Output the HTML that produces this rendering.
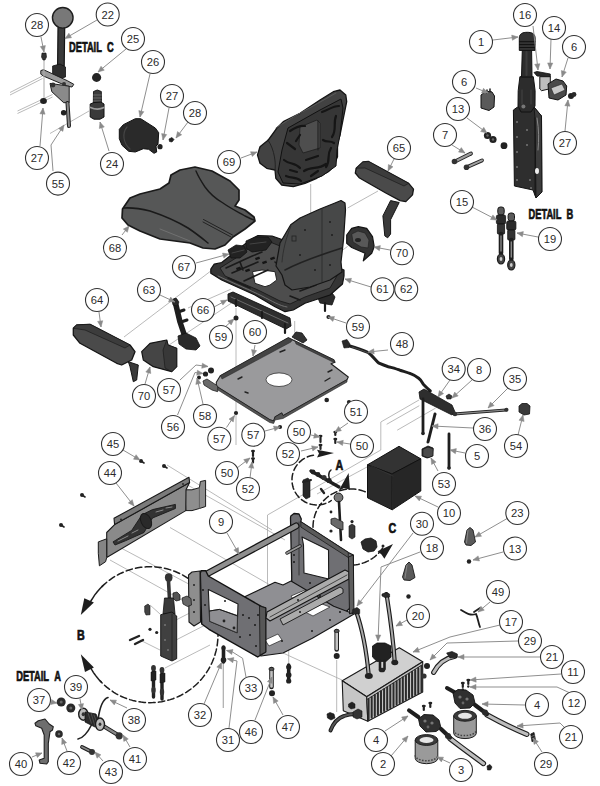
<!DOCTYPE html>
<html><head><meta charset="utf-8"><style>
html,body{margin:0;padding:0;background:#fff;width:600px;height:786px;overflow:hidden}
svg{display:block;font-family:"Liberation Sans",sans-serif}
</style></head><body>
<svg width="600" height="786" viewBox="0 0 600 786">
<rect width="600" height="786" fill="#ffffff"/>
<path d="M10.0,92.5 L42.5,76.0" fill="none" stroke="#a8a8a8" stroke-width="0.8"/>
<path d="M10.0,95.0 L42.5,78.5" fill="none" stroke="#a8a8a8" stroke-width="0.8"/>
<path d="M17.5,111.0 L52.5,94.5" fill="none" stroke="#a8a8a8" stroke-width="0.8"/>
<path d="M17.5,113.5 L52.5,97.0" fill="none" stroke="#a8a8a8" stroke-width="0.8"/>
<path d="M50.0,133.5 L89.0,111.0" fill="none" stroke="#a8a8a8" stroke-width="0.8"/>
<path d="M310.7,184.0 L310.7,217.0" fill="none" stroke="#a8a8a8" stroke-width="0.8"/>
<path d="M378.0,191.0 L347.6,208.0" fill="none" stroke="#a8a8a8" stroke-width="0.8"/>
<path d="M347.6,246.4 L340.0,252.0" fill="none" stroke="#a8a8a8" stroke-width="0.8"/>
<path d="M124.0,337.0 L214.7,268.0" fill="none" stroke="#a8a8a8" stroke-width="0.8"/>
<path d="M169.0,345.0 L236.0,300.0" fill="none" stroke="#a8a8a8" stroke-width="0.8"/>
<path d="M188.0,308.0 L230.7,289.3" fill="none" stroke="#a8a8a8" stroke-width="0.8"/>
<path d="M236.0,308.0 L236.0,445.0" fill="none" stroke="#a8a8a8" stroke-width="0.8"/>
<path d="M294.7,321.0 L294.7,340.0" fill="none" stroke="#a8a8a8" stroke-width="0.8"/>
<path d="M419.3,399.8 L380.8,422.0 L380.8,450.0 L267.5,515.0 L267.5,585.0" fill="none" stroke="#a8a8a8" stroke-width="0.8"/>
<path d="M419.3,405.7 L386.7,424.3" fill="none" stroke="#a8a8a8" stroke-width="0.8"/>
<path d="M435.7,408.0 L397.2,430.2" fill="none" stroke="#a8a8a8" stroke-width="0.8"/>
<path d="M167.0,465.0 L272.0,530.0" fill="none" stroke="#a8a8a8" stroke-width="0.8"/>
<path d="M187.5,485.0 L285.0,540.0" fill="none" stroke="#a8a8a8" stroke-width="0.8"/>
<path d="M170.0,527.5 L270.0,585.0" fill="none" stroke="#a8a8a8" stroke-width="0.8"/>
<path d="M317.0,494.0 L367.0,467.0" fill="none" stroke="#a8a8a8" stroke-width="0.8"/>
<path d="M106.0,540.0 L200.0,590.0" fill="none" stroke="#a8a8a8" stroke-width="0.8"/>
<path d="M110.0,560.0 L200.0,610.0" fill="none" stroke="#a8a8a8" stroke-width="0.8"/>
<path d="M176.0,620.0 L215.0,600.0" fill="none" stroke="#a8a8a8" stroke-width="0.8"/>
<path d="M176.0,640.0 L215.0,620.0" fill="none" stroke="#a8a8a8" stroke-width="0.8"/>
<path d="M165.0,668.0 L210.0,645.0" fill="none" stroke="#a8a8a8" stroke-width="0.8"/>
<path d="M150.0,605.0 L160.0,614.0" fill="none" stroke="#a8a8a8" stroke-width="0.8"/>
<path d="M140.0,640.0 L160.0,650.0" fill="none" stroke="#a8a8a8" stroke-width="0.8"/>
<path d="M223.3,662.0 L223.3,708.0" fill="none" stroke="#a8a8a8" stroke-width="0.8"/>
<path d="M288.7,649.0 L288.7,665.0" fill="none" stroke="#a8a8a8" stroke-width="0.8"/>
<path d="M336.7,660.0 L336.7,712.0" fill="none" stroke="#a8a8a8" stroke-width="0.8"/>
<path d="M223.3,663.0 L223.3,708.0" fill="none" stroke="#a8a8a8" stroke-width="0.8"/>
<path d="M283.0,653.0 L342.0,680.0" fill="none" stroke="#a8a8a8" stroke-width="0.8"/>
<path d="M122.5,209.0 L130.0,198.0 L140.0,194.0 L160.0,189.0 L169.0,183.0 L171.0,175.0 L180.0,170.0 L195.0,167.0 L212.0,171.0 L230.0,181.0 L239.0,190.0 L239.0,200.0 L235.0,206.0 L245.0,210.0 L254.0,217.0 L255.0,221.0 L245.0,229.0 L233.0,237.0 L225.0,245.0 L215.0,249.0 L203.0,248.0 L190.0,243.0 L175.0,241.0 L160.0,239.0 L140.0,231.0 L128.0,225.0 L122.0,218.0 Z" fill="#565757" stroke="#1a1a1a" stroke-width="1.7" stroke-linejoin="round" />
<path d="M124,208 C132,207.5 140,208.5 150,211 C165,216 178,222 188,228 C197,234 203,239 208,243" fill="none" stroke="#1a1a1a" stroke-width="1.6" stroke-linejoin="round" stroke-linecap="round" />
<path d="M196,171 C198,176 201,181 205,187 C210,194 216,199 223,203 C230,208 238,212 245,216 C249,218 252,219.5 254,220" fill="none" stroke="#1a1a1a" stroke-width="1.4" stroke-linejoin="round" stroke-linecap="round" />
<path d="M203.5,219.5 L232.5,235 M203,222 L231,237" fill="none" stroke="#222" stroke-width="1" stroke-linejoin="round" stroke-linecap="round" />
<path d="M160,229 L190,241" fill="none" stroke="#777" stroke-width="0.8" stroke-linejoin="round" stroke-linecap="round" />
<path d="M340.0,90.0 L345.8,95.0 L346.7,101.7 L343.3,118.3 L340.0,135.0 L337.5,143.3 L337.5,156.7 L333.3,166.7 L328.3,171.7 L316.7,178.3 L305.0,183.3 L293.3,186.7 L281.7,185.0 L275.8,178.3 L275.0,170.0 L266.7,168.3 L260.0,163.3 L257.5,155.0 L260.0,146.7 L268.3,140.0 L276.7,128.3 L283.3,121.7 L300.0,113.3 L320.0,100.0 L333.3,91.7 Z" fill="#424242" stroke="#151515" stroke-width="1.3" stroke-linejoin="round" />
<path d="M288.0,128.0 L320.0,110.0 L341.0,99.0 L343.0,108.0 L340.0,135.0 L337.0,150.0 L336.0,166.0 L322.0,176.0 L300.0,184.0 L283.0,183.0 L278.0,172.0 L282.0,150.0 Z" fill="#363636" stroke="#111" stroke-width="1" stroke-linejoin="round" />
<path d="M300.0,127.0 L317.0,120.0 L320.0,123.0 L320.0,148.0 L303.0,153.0 L299.0,145.0 Z" fill="#4e4e4e" stroke="#1a1a1a" stroke-width="0.7" stroke-linejoin="round" />
<path d="M318,121 L318,150" fill="none" stroke="#1a1a1a" stroke-width="1" stroke-linejoin="round" stroke-linecap="round" />
<path d="M290,131 C296,127 300,125 305,126 M322,112 C328,110 333,106 339,106 M336,116 C333,123 337,130 332,137 M284,160 C290,165 295,162 300,168 M304,171 C312,166 318,170 326,164 M331,148 C326,156 331,160 326,167 M287,143 L295,149 M286,176 C292,179 296,176 301,181 M306,160 L318,156 M323,140 C327,143 330,140 334,143 M300,135 L296,141 M290,170 L297,172 M311,176 L318,171" fill="none" stroke="#151515" stroke-width="2.2" stroke-linejoin="round" stroke-linecap="round" />
<path d="M276,128 C290,118 310,108 336,93" fill="none" stroke="#5a5a5a" stroke-width="1" stroke-linejoin="round" stroke-linecap="round" />
<path d="M268,140 C275,150 276,165 275,170" fill="none" stroke="#222" stroke-width="1" stroke-linejoin="round" stroke-linecap="round" />
<path d="M228.0,294.0 L233.0,292.0 L290.0,318.0 L291.0,326.0 L286.0,329.0 L228.0,301.0 Z" fill="#2e2e2e" stroke="#111" stroke-width="0.9" stroke-linejoin="round" />
<path d="M231,297 L288,323" fill="none" stroke="#777" stroke-width="0.8" stroke-linejoin="round" stroke-linecap="round" />
<path d="M316.0,293.0 L330.0,290.0 L335.0,297.0 L332.0,305.0 L320.0,303.0 Z" fill="#2a2a2a" stroke="#111" stroke-width="0.8" stroke-linejoin="round" />
<path d="M236,300 L236,306 M262,312 L262,318 M285,324 L285,333 M325,303 L325,311" fill="none" stroke="#1a1a1a" stroke-width="2.2" stroke-linejoin="round" stroke-linecap="round" />
<path d="M210.8,269.2 L214.2,264.2 L221.7,262.5 L235.0,252.0 L250.0,240.0 L258.0,235.5 L272.0,236.0 L282.0,239.5 L300.0,250.0 L325.0,262.0 L344.0,270.0 L344.0,276.0 L342.5,284.0 L330.0,295.0 L305.0,303.3 L293.3,310.0 L285.0,311.7 L275.0,306.7 L255.0,295.0 L221.7,280.0 L210.8,273.3 Z" fill="#353535" stroke="#111" stroke-width="1.2" stroke-linejoin="round" />
<path d="M220.0,268.0 L236.0,258.0 L252.0,246.0 L270.0,242.0 L290.0,250.0 L320.0,266.0 L338.0,274.0 L330.0,288.0 L305.0,297.0 L290.0,304.0 L280.0,301.0 L258.0,290.0 L225.0,276.0 Z" fill="#4d4d4d" stroke="#1a1a1a" stroke-width="0.9" stroke-linejoin="round" />
<path d="M218,276 C235,284 250,290 262,296 C272,301 280,306 287,307" fill="none" stroke="#777" stroke-width="0.9" stroke-linejoin="round" stroke-linecap="round" />
<path d="M252.5,271.7 L262.0,270.0 L275.0,271.7 L276.7,280.0 L270.0,285.0 L265.0,286.7 L255.0,283.3 Z" fill="#ffffff" stroke="#1a1a1a" stroke-width="0.9" stroke-linejoin="round" />
<path d="M228.0,250.0 L236.0,245.0 L244.0,246.0 L247.0,252.0 L240.0,258.0 L231.0,258.0 Z" fill="#222" stroke="#111" stroke-width="0.8" stroke-linejoin="round" />
<path d="M246.0,241.0 L255.0,237.0 L268.0,237.0 L272.0,242.0 L266.0,250.0 L252.0,252.0 L246.0,248.0 Z" fill="#222" stroke="#111" stroke-width="0.8" stroke-linejoin="round" />
<path d="M232,253 L244,250 M250,244 L266,242" fill="none" stroke="#444" stroke-width="1" stroke-linejoin="round" stroke-linecap="round" />
<path d="M226,268 L250,257 L262,252 M232,273 L258,262 M244,281 L268,270 M240,262 L243,270 M275,262 L282,268 M290,256 L300,262 M300,270 L312,276 M300,291 L316,285 M290,296 L300,300 M228,278 L250,288" fill="none" stroke="#1a1a1a" stroke-width="1.6" stroke-linejoin="round" stroke-linecap="round" />
<rect x="262" y="262" width="4.5" height="2.5" fill="#151515" transform="rotate(-20 262 262)"/>
<rect x="245" y="270" width="4.5" height="2.5" fill="#151515" transform="rotate(-20 245 270)"/>
<rect x="300" y="285" width="4.5" height="2.5" fill="#151515" transform="rotate(-20 300 285)"/>
<rect x="315" y="280" width="4.5" height="2.5" fill="#151515" transform="rotate(-20 315 280)"/>
<rect x="236" y="268" width="4.5" height="2.5" fill="#151515" transform="rotate(-20 236 268)"/>
<rect x="255" y="258" width="4.5" height="2.5" fill="#151515" transform="rotate(-20 255 258)"/>
<rect x="270" y="258" width="4.5" height="2.5" fill="#151515" transform="rotate(-20 270 258)"/>
<rect x="287" y="272" width="4.5" height="2.5" fill="#151515" transform="rotate(-20 287 272)"/>
<rect x="290" y="284" width="4.5" height="2.5" fill="#151515" transform="rotate(-20 290 284)"/>
<path d="M290.7,224.7 L300.0,218.0 L320.0,209.0 L335.0,203.0 L341.0,200.5 L345.0,203.0 L345.5,210.0 L343.5,240.0 L341.0,262.0 L342.0,272.0 L330.0,280.0 L310.0,287.0 L292.0,290.0 L285.0,285.0 L282.0,275.0 L276.0,266.0 L280.0,243.0 Z" fill="#474848" stroke="#151515" stroke-width="1.2" stroke-linejoin="round" />
<path d="M322,209 L322,282" fill="none" stroke="#2a2a2a" stroke-width="0.8" stroke-linejoin="round" stroke-linecap="round" />
<path d="M285,270 C300,262 320,255 342,248" fill="none" stroke="#222" stroke-width="1.6" stroke-linejoin="round" stroke-linecap="round" />
<path d="M291,226 C286,238 283,250 282,262" fill="none" stroke="#2a2a2a" stroke-width="0.8" stroke-linejoin="round" stroke-linecap="round" />
<rect x="292" y="236" width="4" height="5" fill="none" stroke="#222" stroke-width="0.8"/>
<circle cx="305" cy="230" r="0.9" fill="#1a1a1a"/>
<circle cx="330" cy="222" r="0.9" fill="#1a1a1a"/>
<circle cx="300" cy="255" r="0.9" fill="#1a1a1a"/>
<circle cx="332" cy="235" r="0.9" fill="#1a1a1a"/>
<circle cx="315" cy="270" r="0.9" fill="#1a1a1a"/>
<circle cx="330" cy="265" r="0.9" fill="#1a1a1a"/>
<path d="M220.3,375.7 L288.3,337.8 L292.3,339.7 L295.0,341.0 L333.7,359.7 L335.0,362.3 L331.0,363.7 L348.3,377.0 L347.0,379.7 L283.0,415.7 L281.7,413.0 L275.0,417.0 L273.7,421.0 L269.7,419.7 L216.3,386.3 L216.3,382.3 Z" fill="#9a9a9c" stroke="#1e1e1e" stroke-width="1.1" stroke-linejoin="round" />
<path d="M216.3,386.3 L269.7,419.7 L273.7,421.0 L275.0,417.0 L281.7,413.0 L283.0,415.7 L347.0,379.7 L347.0,382.0 L283.0,418.5 L275.0,420.0 L273.7,423.5 L269.7,422.5 L216.3,389.0 Z" fill="#555" stroke="#222" stroke-width="0.6" stroke-linejoin="round" />
<path d="M288.3,337.8 L292.3,339.7 L291.0,342.0 L222.0,379.0 L220.3,375.7 Z" fill="#444" stroke="#222" stroke-width="0.5" stroke-linejoin="round" />
<path d="M295.0,341.0 L333.7,359.7 L335.0,362.3 L333.0,362.0 L296.0,344.0 Z" fill="#444" stroke="#222" stroke-width="0.5" stroke-linejoin="round" />
<path d="M203.0,381.0 L207.0,379.0 L217.7,386.0 L217.7,391.7 L212.0,390.0 L204.0,385.0 Z" fill="#6a6a6a" stroke="#222" stroke-width="0.8" stroke-linejoin="round" />
<ellipse cx="279" cy="379.7" rx="13" ry="6.8" fill="#ffffff" stroke="#333" stroke-width="0.8"/>
<path d="M238,379 L242,377 M280,352 L285,350 M245,392 L248,393 M325,381 L330,378 M328,372 L332,370" fill="none" stroke="#222" stroke-width="1.4" stroke-linejoin="round" stroke-linecap="round" />
<path d="M292.0,337.0 L296.0,332.0 L302.0,333.0 L307.0,340.0 L303.0,343.0 Z" fill="#333" stroke="#111" stroke-width="0.8" stroke-linejoin="round" />
<path d="M367.5,464.8 L399.0,446.3 L420.8,458.8 L392.0,474.0 Z" fill="#333333" stroke="#111" stroke-width="1" stroke-linejoin="round" />
<path d="M367.5,464.8 L392.0,474.0 L392.2,509.8 L367.5,497.8 Z" fill="#2a2a2a" stroke="#111" stroke-width="1" stroke-linejoin="round" />
<path d="M392.0,474.0 L420.8,458.8 L420.8,491.0 L392.2,509.8 Z" fill="#262626" stroke="#111" stroke-width="1" stroke-linejoin="round" />
<path d="M371,466 L393,476 M392,474 L392.25,509.75" fill="none" stroke="#3a3a3a" stroke-width="0.6" stroke-linejoin="round" stroke-linecap="round" />
<path d="M422.0,449.0 L428.0,446.0 L433.0,448.0 L432.0,456.0 L427.0,458.0 L422.0,456.0 Z" fill="#4a4a4a" stroke="#111" stroke-width="0.8" stroke-linejoin="round" />
<path d="M101.9,586.6 L104.0,584.6 L106.2,582.7 L108.5,580.8 L110.9,579.1 L113.3,577.4 L115.8,575.9 L118.4,574.5 L121.0,573.2 L123.7,572.0 L126.4,570.9 L129.2,570.0 L132.0,569.1 L134.9,568.4 L137.7,567.8 L140.6,567.3 L143.6,567.0 L146.5,566.8 L149.4,566.7 L152.4,566.7 L155.3,566.9 L158.2,567.2 L161.1,567.6 L164.0,568.2 L166.8,568.8 L169.7,569.6 L172.5,570.5 L175.2,571.5 L177.9,572.7 L180.6,574.0 L183.2,575.3 L185.7,576.8 L188.2,578.4 L190.5,580.1 L192.9,581.9 L195.1,583.8 L197.3,585.8 L199.3,587.9 L201.3,590.1 L203.2,592.3 L204.9,594.6 L206.6,597.1 L208.2,599.5 L209.7,602.1 L211.0,604.7 L212.3,607.3 L213.4,610.0 L214.4,612.8 L215.3,615.6 L216.0,618.4 L216.7,621.3 L217.2,624.2 L217.6,627.1 L217.8,630.0 L218.0,633.0 L218.0,635.9 L217.9,638.8 L217.6,641.7 L217.3,644.7 L216.8,647.5 L216.2,650.4 L215.4,653.3 L214.6,656.1 L213.6,658.8 L212.5,661.5 L211.3,664.2 L209.9,666.8 L208.5,669.4 L206.9,671.9 L205.3,674.3 L203.5,676.6 L201.7,678.9 L199.7,681.1 L197.7,683.2 L195.5,685.2 L193.3,687.1 L191.0,689.0 L188.6,690.7 L186.2,692.3 L183.6,693.8 L181.1,695.2 L178.4,696.5 L175.7,697.6 L173.0,698.7 L170.2,699.6 L167.4,700.4 L164.5,701.1 L161.7,701.7 L158.8,702.1 L155.8,702.4 L152.9,702.6 L150.0,702.7 L147.0,702.6 L144.1,702.4 L141.2,702.1 L138.3,701.7 L135.4,701.1 L132.6,700.4 L129.7,699.6 L127.0,698.7 L124.2,697.6 L121.5,696.5 L118.9,695.2 L116.3,693.8 L113.8,692.3 L111.4,690.6 L109.0,688.9 L106.7,687.1 L104.5,685.2 L102.3,683.2 L100.3,681.1" fill="none" stroke="#1e1e1e" stroke-width="1.5" stroke-linejoin="round" stroke-linecap="round" stroke-dasharray="6.5,3.2"/>
<path d="M90.5,601.7 L91.5,600.0 L92.6,598.3 L93.7,596.6 L94.8,594.9 L96.1,593.3 L97.3,591.7 L98.6,590.2 L99.9,588.7 L101.3,587.2 L102.8,585.8" fill="none" stroke="#1e1e1e" stroke-width="1.5" stroke-linejoin="round" stroke-linecap="round" />
<path d="M101.1,681.9 L99.9,680.7 L98.8,679.4 L97.6,678.1 L96.6,676.8 L95.5,675.4 L94.5,674.0 L93.5,672.6 L92.6,671.1 L91.7,669.7 L90.8,668.2" fill="none" stroke="#1e1e1e" stroke-width="1.5" stroke-linejoin="round" stroke-linecap="round" />
<path d="M80.8,615 L84.3,598.3 L93.9,602.6 Z" fill="#1e1e1e"/>
<path d="M80.8,654.3 L85,671.9 L93.9,667.4 Z" fill="#1e1e1e"/>
<path d="M365.2,491.8 L363.4,491.1 L361.6,490.5 L359.7,490.0 L357.8,489.6 L355.9,489.3 L354.0,489.1 L352.1,489.0 L350.1,489.0 L348.2,489.1 L346.3,489.3 L344.4,489.6 L342.5,490.0 L340.6,490.4 L338.8,491.0 L337.0,491.7 L335.2,492.4 L333.5,493.3 L331.8,494.2 L330.1,495.2 L328.5,496.3 L327.0,497.5 L325.6,498.8 L324.2,500.1 L322.8,501.5 L321.6,503.0 L320.4,504.5 L319.3,506.1 L318.3,507.7 L317.3,509.4 L316.5,511.1 L315.7,512.9 L315.0,514.7 L314.5,516.6 L314.0,518.4 L313.6,520.3 L313.3,522.2 L313.1,524.2 L313.0,526.1 L313.0,528.0 L313.1,529.9 L313.3,531.9 L313.6,533.8 L314.0,535.7 L314.5,537.5 L315.1,539.4 L315.7,541.2 L316.5,543.0 L317.4,544.7 L318.3,546.4 L319.3,548.0 L320.4,549.6 L321.6,551.1 L322.9,552.6 L324.2,554.0 L325.6,555.3 L327.1,556.5 L328.6,557.7 L330.2,558.8 L331.9,559.8 L333.6,560.8 L335.3,561.6 L337.1,562.4 L338.9,563.0 L340.7,563.6 L342.6,564.1 L344.5,564.4 L346.4,564.7 L348.3,564.9 L350.2,565.0 L352.2,565.0 L354.1,564.9 L356.0,564.7 L357.9,564.4 L359.8,564.0 L361.7,563.5 L363.5,562.9 L365.3,562.2 L367.1,561.4 L368.8,560.6 L370.5,559.6 L372.1,558.6 L373.7,557.5 L375.2,556.3 L376.7,555.0 L378.1,553.7 L379.4,552.3 L380.6,550.8 L381.8,549.2 L382.9,547.6 L383.9,546.0" fill="none" stroke="#1e1e1e" stroke-width="1.5" stroke-linejoin="round" stroke-linecap="round" stroke-dasharray="6.5,3.2"/>
<path d="M348.6,473 L338.5,491 L344,488 L350,490 Z" fill="#1e1e1e"/>
<path d="M393,544 L384.4,558.7 L381.5,554.5 L377.6,551.3 Z" fill="#1e1e1e"/>
<path d="M290.8,516.0 L294.0,513.5 L299.0,514.0 L301.3,519.0 L300.8,521.7 L348.3,552.5 L353.3,555.0 L353.3,605.0 L335.0,622.0 L291.7,600.0 L291.7,575.0 L290.5,518.0 Z" fill="#6f6f73" stroke="#151515" stroke-width="1.3" stroke-linejoin="round" />
<path d="M302.0,537.0 L328.5,550.0 L328.7,579.0 L304.0,573.0 L303.5,545.0 Z" fill="#ffffff" stroke="#1a1a1a" stroke-width="1.1" stroke-linejoin="round" />
<path d="M300.8,521.7 L348.3,552.5 L348.3,557.5 L300.8,527.0 Z" fill="#5a5a5a" stroke="#1a1a1a" stroke-width="0.8" stroke-linejoin="round" />
<path d="M299,522 L299,575" fill="none" stroke="#2a2a2a" stroke-width="0.8" stroke-linejoin="round" stroke-linecap="round" />
<path d="M240.0,599.0 L275.0,582.3 L283.0,585.0 L291.0,581.0 L333.7,606.3 L354.0,614.0 L344.3,619.7 L312.3,638.3 L283.0,653.0 L261.0,656.0 L240.0,640.0 Z" fill="#8f8f93" stroke="#151515" stroke-width="1.1" stroke-linejoin="round" />
<path d="M291.0,596.0 L305.0,590.0 L307.0,593.0 L293.0,599.0 Z" fill="#ffffff" stroke="#333" stroke-width="0.8" stroke-linejoin="round" />
<path d="M305.0,612.0 L322.0,604.0 L330.0,607.0 L313.0,616.0 Z" fill="#ffffff" stroke="#333" stroke-width="0.8" stroke-linejoin="round" />
<path d="M265.0,640.0 L278.0,634.0 L282.0,640.0 L269.0,646.0 Z" fill="#ffffff" stroke="#333" stroke-width="0.8" stroke-linejoin="round" />
<path d="M287,553 L300,546" fill="none" stroke="#222" stroke-width="3.5" stroke-linejoin="round" stroke-linecap="round" />
<path d="M287,553 L300,546" fill="none" stroke="#9a9a9a" stroke-width="1.8" stroke-linejoin="round" stroke-linecap="round" />
<path d="M203,576 L296,526" fill="none" stroke="#151515" stroke-width="7" stroke-linejoin="round" stroke-linecap="round" />
<path d="M203,576 L296,526" fill="none" stroke="#8e8e8e" stroke-width="4.6" stroke-linejoin="round" stroke-linecap="round" />
<path d="M200.3,573.3 L201.0,570.7 L205.7,570.7 L208.3,576.0 L261.7,606.7 L265.7,608.0 L265.7,652.0 L257.7,657.0 L209.0,629.3 L201.7,624.0 Z" fill="#6f6f73" stroke="#111" stroke-width="1.4" stroke-linejoin="round" />
<path d="M208.3,589.5 L238.0,604.0 L237.0,632.7 L209.7,621.3 Z" fill="#ffffff" stroke="#1a1a1a" stroke-width="1.1" stroke-linejoin="round" />
<path d="M209.5,611.0 L219.4,609.4 L237.5,615.5 L237.0,632.7 L209.7,621.3 Z" fill="#8f8f93" stroke="#2a2a2a" stroke-width="0.8" stroke-linejoin="round" />
<circle cx="224" cy="621" r="1.4" fill="#222"/><circle cx="234" cy="628" r="1.4" fill="#222"/>
<path d="M209.5,611 L219.4,609.4 L237.5,616" fill="none" stroke="#1a1a1a" stroke-width="1" stroke-linejoin="round" stroke-linecap="round" />
<path d="M259.5,606.0 L265.7,608.0 L265.7,652.0 L260.0,655.0 Z" fill="#575757" stroke="#151515" stroke-width="0.8" stroke-linejoin="round" />
<path d="M267.0,612.0 L345.0,570.0 L349.0,572.0 L349.0,579.0 L270.0,621.0 L266.0,618.0 Z" fill="#ababab" stroke="#151515" stroke-width="1.1" stroke-linejoin="round" />
<path d="M270,617 L347,575" fill="none" stroke="#2a2a2a" stroke-width="0.8" stroke-linejoin="round" stroke-linecap="round" />
<path d="M280.0,619.0 L340.0,587.0 L343.0,589.0 L343.0,593.0 L283.0,625.0 Z" fill="#ababab" stroke="#151515" stroke-width="0.9" stroke-linejoin="round" />
<path d="M348.5,557.0 L353.3,555.0 L354.0,612.0 L349.5,614.0 Z" fill="#5e5e5e" stroke="#151515" stroke-width="0.9" stroke-linejoin="round" />
<circle cx="243" cy="615" r="1" fill="#1a1a1a"/>
<circle cx="249" cy="618" r="1" fill="#1a1a1a"/>
<circle cx="225" cy="601" r="1" fill="#1a1a1a"/>
<circle cx="203" cy="590" r="1" fill="#1a1a1a"/>
<circle cx="205" cy="605" r="1" fill="#1a1a1a"/>
<circle cx="312" cy="631" r="1" fill="#1a1a1a"/>
<circle cx="330" cy="620" r="1" fill="#1a1a1a"/>
<circle cx="340" cy="612" r="1" fill="#1a1a1a"/>
<circle cx="298" cy="600" r="1" fill="#1a1a1a"/>
<circle cx="310" cy="583" r="1" fill="#1a1a1a"/>
<circle cx="282" cy="641" r="1" fill="#1a1a1a"/>
<circle cx="256" cy="646" r="1" fill="#1a1a1a"/>
<circle cx="240" cy="637" r="1" fill="#1a1a1a"/>
<circle cx="294" cy="555" r="1" fill="#1a1a1a"/>
<circle cx="294" cy="562" r="1" fill="#1a1a1a"/>
<circle cx="250" cy="635" r="1" fill="#1a1a1a"/>
<circle cx="255" cy="625" r="1" fill="#1a1a1a"/>
<circle cx="258" cy="615" r="1" fill="#1a1a1a"/>
<circle cx="320" cy="596" r="1" fill="#1a1a1a"/>
<circle cx="300" cy="612" r="1" fill="#1a1a1a"/>
<path d="M342.2,680.8 L399.3,647.7 L422.7,661.7 L366.7,696.7 Z" fill="#d0d0d0" stroke="#1a1a1a" stroke-width="1.1" stroke-linejoin="round" />
<path d="M342.2,680.8 L366.7,696.7 L367.8,721.2 L343.3,710.7 Z" fill="#c6c6c6" stroke="#1a1a1a" stroke-width="1.1" stroke-linejoin="round" />
<path d="M366.7,696.7 L422.7,661.7 L422.7,692.0 L367.8,721.2 Z" fill="#c4c4c4" stroke="#1a1a1a" stroke-width="1.1" stroke-linejoin="round" />
<path d="M367,699.5 L422.7,664.5" fill="none" stroke="#333" stroke-width="1" stroke-linejoin="round" stroke-linecap="round" />
<path d="M368.6,699.0 L368.6,719.2 M371.7,697.1 L371.7,717.6 M374.8,695.1 L374.8,716.0 M377.9,693.2 L377.9,714.4 M381.0,691.3 L381.0,712.7 M384.1,689.3 L384.1,711.1 M387.2,687.4 L387.2,709.5 M390.3,685.4 L390.3,707.9 M393.5,683.5 L393.5,706.2 M396.6,681.5 L396.6,704.6 M399.7,679.6 L399.7,703.0 M402.8,677.6 L402.8,701.4 M405.9,675.7 L405.9,699.8 M409.0,673.8 L409.0,698.1 M412.1,671.8 L412.1,696.5 M415.2,669.9 L415.2,694.9 M418.3,667.9 L418.3,693.3 M421.5,666.0 L421.5,691.6" fill="none" stroke="#2a2a2a" stroke-width="2.0" stroke-linejoin="round" stroke-linecap="round" />
<path d="M356,611 C361,625 366,645 368.8,676" fill="none" stroke="#1a1a1a" stroke-width="4.2" stroke-linejoin="round" stroke-linecap="round" />
<path d="M356,611 C361,625 366,645 368.8,676" fill="none" stroke="#a8a8a8" stroke-width="2.0" stroke-linejoin="round" stroke-linecap="round" />
<path d="M386.5,594 C389,610 393,635 394.8,663" fill="none" stroke="#1a1a1a" stroke-width="4.2" stroke-linejoin="round" stroke-linecap="round" />
<path d="M386.5,594 C389,610 393,635 394.8,663" fill="none" stroke="#a8a8a8" stroke-width="2.0" stroke-linejoin="round" stroke-linecap="round" />
<path d="M352.7,609.5 L357.0,607.5 L359.7,609.5 L359.7,613.5 L355.0,614.3 L352.7,612.5 Z" fill="#2a2a2a" stroke="#111" stroke-width="0.6" stroke-linejoin="round" />
<path d="M382.0,594.0 L386.0,592.6 L389.6,594.0 L389.6,597.0 L385.0,597.5 L382.0,596.0 Z" fill="#2a2a2a" stroke="#111" stroke-width="0.6" stroke-linejoin="round" />
<path d="M372.5,646.0 L377.0,643.0 L385.0,643.0 L391.0,646.0 L391.0,657.0 L386.0,661.4 L377.0,661.4 L372.5,657.0 Z" fill="#222" stroke="#111" stroke-width="0.8" stroke-linejoin="round" />
<path d="M380,661 L380,670 M384.5,661 L384.5,669" fill="none" stroke="#1e1e1e" stroke-width="2.6" stroke-linejoin="round" stroke-linecap="round" />
<ellipse cx="368.8" cy="676" rx="4" ry="3" fill="#222"/><ellipse cx="394.8" cy="662.5" rx="3.5" ry="2.8" fill="#222"/><ellipse cx="382" cy="670" rx="3.2" ry="2.3" fill="#222"/>
<path d="M330.5,730.5 C333,724 338,718 344,716 C348,714.5 352,714 355,714" fill="none" stroke="#1a1a1a" stroke-width="4" stroke-linejoin="round" stroke-linecap="round" />
<path d="M330.5,730.5 C333,724 338,718 344,716 C348,714.5 352,714 355,714" fill="none" stroke="#555" stroke-width="2" stroke-linejoin="round" stroke-linecap="round" />
<path d="M353.0,712.0 L358.0,709.0 L362.0,711.0 L362.0,717.0 L357.0,719.0 L353.0,717.0 Z" fill="#333" stroke="#111" stroke-width="0.6" stroke-linejoin="round" />
<path d="M327.0,714.0 L330.0,712.5 L334.0,714.0 L335.0,718.0 L331.0,720.0 L327.5,718.0 Z" fill="#222" stroke="#111" stroke-width="0.6" stroke-linejoin="round" />
<path d="M348.5,704.0 L352.0,702.0 L355.0,704.0 L355.0,708.0 L351.0,709.0 L348.5,707.0 Z" fill="#222" stroke="#111" stroke-width="0.5" stroke-linejoin="round" />
<path d="M73.3,328.3 L76.7,325.0 L90.0,324.3 L130.0,345.0 L135.0,351.7 L131.7,360.0 L121.7,365.0 L116.7,363.3 L80.0,343.3 L73.3,335.0 Z" fill="#4a4a4a" stroke="#151515" stroke-width="1.3" stroke-linejoin="round" />
<path d="M73.3,328.3 L76.7,325.0 L90.0,324.3 L130.0,345.0 L125.0,348.0 L85.0,330.0 Z" fill="#3c3c3c" stroke="#151515" stroke-width="0.6" stroke-linejoin="round" />
<path d="M128.3,361.7 L138.3,365.0 L136.7,380.0 L133.3,381.7 L130.0,366.7 Z" fill="#3a3a3a" stroke="#151515" stroke-width="1" stroke-linejoin="round" />
<path d="M141.7,351.7 L150.0,343.3 L166.7,340.0 L168.0,345.0 L176.7,348.3 L176.7,366.7 L171.7,371.7 L153.3,366.7 L143.3,360.0 Z" fill="#454545" stroke="#151515" stroke-width="1.2" stroke-linejoin="round" />
<path d="M166.7,340.0 L168.0,345.0 L176.7,348.3 L176.7,366.7 L171.7,371.7 L165.0,368.0 L163.0,350.0 Z" fill="#383838" stroke="#151515" stroke-width="0.6" stroke-linejoin="round" />
<path d="M175,301 L180,322 L185,337" fill="none" stroke="#1e1e1e" stroke-width="5.5" stroke-linejoin="round" stroke-linecap="round" />
<path d="M172.0,300.0 L176.0,298.0 L179.0,302.0 L177.0,306.0 L173.0,305.0 Z" fill="#2a2a2a" stroke="#111" stroke-width="0.6" stroke-linejoin="round" />
<path d="M178,312 L184,310 M181,322 L187,320" fill="none" stroke="#1e1e1e" stroke-width="3" stroke-linejoin="round" stroke-linecap="round" />
<path d="M178.0,336.0 L186.0,333.0 L196.0,338.0 L200.0,346.0 L196.0,350.0 L186.0,349.0 L179.0,344.0 Z" fill="#2a2a2a" stroke="#111" stroke-width="0.8" stroke-linejoin="round" />
<path d="M356.2,168.2 L362.9,162.0 L368.6,161.5 L408.7,183.4 L413.5,189.2 L412.5,194.9 L405.8,201.6 L400.1,200.6 L385.8,193.0 L359.1,177.7 L355.3,173.0 Z" fill="#4a4a4a" stroke="#151515" stroke-width="1.3" stroke-linejoin="round" />
<path d="M356.2,168.2 L362.9,162.0 L368.6,161.5 L408.7,183.4 L404.0,186.0 L365.0,168.0 Z" fill="#3c3c3c" stroke="#151515" stroke-width="0.6" stroke-linejoin="round" />
<path d="M390.6,200.6 L399.2,202.5 L390.6,219.7 L390.6,234.0 L387.7,237.8 L384.8,235.9 L382.9,215.9 Z" fill="#3a3a3a" stroke="#151515" stroke-width="1" stroke-linejoin="round" />
<path d="M346.7,235.0 L351.7,228.3 L358.3,226.7 L366.7,228.3 L372.5,236.7 L374.2,246.7 L371.7,253.3 L363.3,260.8 L365.0,253.3 L351.7,247.5 L346.7,243.3 Z" fill="#333333" stroke="#151515" stroke-width="1.2" stroke-linejoin="round" />
<path d="M351.7,234.0 L358.0,231.0 L365.0,233.0 L369.0,240.0 L368.0,248.0 L361.0,247.0 L353.0,242.0 Z" fill="#585858" stroke="#222" stroke-width="0.7" stroke-linejoin="round" />
<ellipse cx="358" cy="240" rx="3" ry="2" fill="#222"/>
<path d="M513.4,110.0 L519.0,106.0 L534.0,107.0 L541.5,116.0 L541.9,192.0 L536.0,198.0 L533.0,190.0 L514.4,186.0 Z" fill="#2e2e2e" stroke="#111" stroke-width="1" stroke-linejoin="round" />
<path d="M534.0,107.0 L541.5,116.0 L541.9,192.0 L536.0,198.0 L535.0,118.0 Z" fill="#3c3c3c" stroke="#111" stroke-width="0.8" stroke-linejoin="round" />
<path d="M535,118 L535,195" fill="none" stroke="#111" stroke-width="0.8" stroke-linejoin="round" stroke-linecap="round" />
<path d="M519.9,76.7 L533.3,76.7 L535.1,90.7 L535.0,106.0 L531.0,112.0 L521.0,112.0 L518.0,106.0 L518.2,90.7 Z" fill="#2c2c2c" stroke="#111" stroke-width="1" stroke-linejoin="round" />
<path d="M522,90 L522,104 M531,90 L531,104" fill="none" stroke="#444" stroke-width="1" stroke-linejoin="round" stroke-linecap="round" />
<circle cx="523.4" cy="106.4" r="2" fill="#777"/>
<path d="M522.3,50.0 L531.6,50.0 L532.0,77.0 L521.5,77.0 Z" fill="#2c2c2c" stroke="#111" stroke-width="1" stroke-linejoin="round" />
<path d="M526.5,52 L526.5,75" fill="none" stroke="#3c3c3c" stroke-width="2" stroke-linejoin="round" stroke-linecap="round" />
<path d="M519.3,50.4 L519.3,38 C519.3,33.5 523,32.3 527.2,32.3 C531.4,32.3 535.1,33.5 535.1,38 L535.1,50.4 Z" fill="#333" stroke="#111" stroke-width="1"/>
<path d="M519.5,41.7 L535,41.7 M519.5,44.6 L535,44.6 M519.5,47.5 L535,47.5" fill="none" stroke="#111" stroke-width="1" stroke-linejoin="round" stroke-linecap="round" />
<circle cx="517" cy="122" r="1" fill="#777"/>
<circle cx="517" cy="137" r="1" fill="#777"/>
<circle cx="517" cy="152" r="1" fill="#777"/>
<circle cx="517" cy="167" r="1" fill="#777"/>
<circle cx="517" cy="180" r="1" fill="#777"/>
<circle cx="530" cy="180" r="1" fill="#777"/>
<circle cx="531" cy="188" r="1" fill="#777"/>
<circle cx="527" cy="130" r="1" fill="#777"/>
<circle cx="527" cy="145" r="1" fill="#777"/>
<ellipse cx="537" cy="171" rx="2" ry="3" fill="#eee"/>
<path d="M537,118 C539,130 539,140 538,150" fill="none" stroke="#888" stroke-width="1" stroke-linejoin="round" stroke-linecap="round" />
<path d="M534.0,72.5 L537.0,71.5 L550.3,74.0 L550.3,77.0 L537.0,76.0 Z" fill="#2a2a2a" stroke="#111" stroke-width="0.8" stroke-linejoin="round" />
<path d="M539.8,76.7 L550.3,76.7 L550.3,88.7 L541.5,90.7 L539.8,89.0 Z" fill="#bdbdbd" stroke="#151515" stroke-width="1" stroke-linejoin="round" />
<path d="M548.0,84.0 L556.0,79.0 L563.0,81.0 L566.7,86.0 L566.0,95.0 L558.0,100.0 L549.0,98.0 Z" fill="#4a4a4a" stroke="#111" stroke-width="1" stroke-linejoin="round" />
<path d="M551.0,88.0 L562.0,84.0 L565.0,90.0 L554.0,95.0 Z" fill="#c8c8c8" stroke="#222" stroke-width="0.6" stroke-linejoin="round" />
<circle cx="571" cy="96" r="3" fill="#222"/><circle cx="574" cy="94.5" r="2.4" fill="#2a2a2a"/>
<path d="M481.0,95.0 L485.0,92.0 L487.0,93.0 L489.0,91.0 L492.0,92.0 L494.5,96.0 L494.0,107.0 L489.0,110.5 L481.0,108.0 Z" fill="#5a5a5a" stroke="#111" stroke-width="1" stroke-linejoin="round" />
<path d="M487,93 L487,90 M490,92 L490,89" fill="none" stroke="#222" stroke-width="1.5" stroke-linejoin="round" stroke-linecap="round" />
<circle cx="487.5" cy="135.5" r="3.6" fill="#222"/><circle cx="493" cy="139.5" r="3.6" fill="#222"/><circle cx="504" cy="145.7" r="3.4" fill="#222"/><circle cx="487.5" cy="135.5" r="1.2" fill="#666"/><circle cx="493" cy="139.5" r="1.2" fill="#666"/>
<path d="M454,162 L471,153.5" fill="none" stroke="#222" stroke-width="3.8" stroke-linejoin="round" stroke-linecap="round" />
<path d="M454,162 L471,153.5" fill="none" stroke="#a0a0a0" stroke-width="2" stroke-linejoin="round" stroke-linecap="round" />
<path d="M466,167.6 L482,160.4" fill="none" stroke="#222" stroke-width="3.8" stroke-linejoin="round" stroke-linecap="round" />
<path d="M466,167.6 L482,160.4" fill="none" stroke="#a0a0a0" stroke-width="2" stroke-linejoin="round" stroke-linecap="round" />
<circle cx="454.5" cy="161.5" r="2.8" fill="#333"/><circle cx="466.5" cy="167.2" r="2.8" fill="#333"/>
<rect x="497.8" y="207" width="6.4" height="8" rx="2.5" fill="#5a5a5a" stroke="#151515" stroke-width="1"/>
<rect x="496.4" y="215" width="9.2" height="9" rx="1.5" fill="#2a2a2a" stroke="#111" stroke-width="0.8"/>
<rect x="497.4" y="224" width="7.2" height="10" rx="1" fill="#333" stroke="#111" stroke-width="0.8"/>
<path d="M501,234 L501,253" fill="none" stroke="#1e1e1e" stroke-width="4.6" stroke-linejoin="round" stroke-linecap="round" />
<path d="M501,236 L501,251" fill="none" stroke="#888" stroke-width="1.4" stroke-linejoin="round" stroke-linecap="round" />
<ellipse cx="501" cy="259" rx="3.6" ry="5" fill="#444" stroke="#1a1a1a" stroke-width="1.2"/>
<ellipse cx="501" cy="259" rx="1.4" ry="2" fill="#ccc"/>
<rect x="508.1" y="213" width="6.4" height="8" rx="2.5" fill="#5a5a5a" stroke="#151515" stroke-width="1"/>
<rect x="506.7" y="221" width="9.2" height="9" rx="1.5" fill="#2a2a2a" stroke="#111" stroke-width="0.8"/>
<rect x="507.7" y="230" width="7.2" height="10" rx="1" fill="#333" stroke="#111" stroke-width="0.8"/>
<path d="M511.3,240 L511.3,259" fill="none" stroke="#1e1e1e" stroke-width="4.6" stroke-linejoin="round" stroke-linecap="round" />
<path d="M511.3,242 L511.3,257" fill="none" stroke="#888" stroke-width="1.4" stroke-linejoin="round" stroke-linecap="round" />
<ellipse cx="511.3" cy="265" rx="3.6" ry="5" fill="#444" stroke="#1a1a1a" stroke-width="1.2"/>
<ellipse cx="511.3" cy="265" rx="1.4" ry="2" fill="#ccc"/>
<path d="M58.0,27.5 L64.7,27.5 L64.2,66.0 L57.6,66.0 Z" fill="#3a3a3a" stroke="#151515" stroke-width="1.2" stroke-linejoin="round" />
<circle cx="62.75" cy="17.8" r="10.3" fill="#787878" stroke="#1e1e1e" stroke-width="1.4"/>
<path d="M52.6,66.0 L60.0,64.0 L65.5,67.0 L65.5,77.0 L58.0,79.0 L52.6,76.0 Z" fill="#2e2e2e" stroke="#111" stroke-width="0.8" stroke-linejoin="round" />
<path d="M40.8,70.6 L43.5,69.7 L67.3,80.7 L73.8,84.3 L72.0,87.0 L67.3,86.2 L43.5,76.1 L40.8,74.2 Z" fill="#9a9a9a" stroke="#1e1e1e" stroke-width="1" stroke-linejoin="round" />
<path d="M50.0,83.4 L69.2,86.2 L69.2,102.7 L63.7,102.7 L51.8,91.7 Z" fill="#8a8a8a" stroke="#1e1e1e" stroke-width="1" stroke-linejoin="round" />
<path d="M67.5,103 L69,126" fill="none" stroke="#1e1e1e" stroke-width="4" stroke-linejoin="round" stroke-linecap="round" />
<path d="M67.5,103 L69,126" fill="none" stroke="#8a8a8a" stroke-width="2" stroke-linejoin="round" stroke-linecap="round" />
<circle cx="63.7" cy="112.75" r="2.8" fill="#222"/><circle cx="53" cy="85" r="2.4" fill="#333"/><circle cx="64" cy="84" r="2" fill="#333"/>
<path d="M44,58 L44,99" fill="none" stroke="#aaa" stroke-width="1" stroke-linejoin="round" stroke-linecap="round" />
<path d="M42.0,53.0 L46.0,53.0 L46.5,57.0 L45.0,60.0 L43.0,60.0 L41.5,57.0 Z" fill="#333" stroke="#111" stroke-width="0.6" stroke-linejoin="round" />
<ellipse cx="43.5" cy="101" rx="3.4" ry="3" fill="#222"/>
<ellipse cx="96.6" cy="77.5" rx="4.6" ry="4.4" fill="#252525"/>
<path d="M93.5,91.5 L97.3,90.0 L101.3,91.5 L101.5,103.0 L93.3,103.5 Z" fill="#3a3a3a" stroke="#111" stroke-width="0.9" stroke-linejoin="round" />
<path d="M93.6,95 L101.3,95 M93.6,98 L101.3,98 M93.6,101 L101.3,101" fill="none" stroke="#777" stroke-width="0.8" stroke-linejoin="round" stroke-linecap="round" />
<path d="M90.2,104.0 L94.0,102.5 L100.8,102.0 L104.0,104.0 L104.0,117.0 L100.0,119.2 L94.0,119.2 L90.2,117.0 Z" fill="#3a3a3a" stroke="#111" stroke-width="1" stroke-linejoin="round" />
<path d="M90.5,107.5 C95,109.5 100,109.5 104,107.5" fill="none" stroke="#9a9a9a" stroke-width="1.8" stroke-linejoin="round" stroke-linecap="round" />
<path d="M119.3,129.3 L123.3,124.7 L135.3,118.7 L140.7,118.7 L155.3,128.0 L158.7,132.7 L158.0,144.0 L156.0,146.0 L156.7,152.0 L154.0,153.3 L148.7,149.3 L143.3,148.7 L135.3,152.0 L128.7,151.3 L122.0,145.3 L119.3,138.7 Z" fill="#2a2a2a" stroke="#111" stroke-width="1" stroke-linejoin="round" />
<path d="M127,127 C122,133 123,143 130,149" fill="none" stroke="#444" stroke-width="1.2" stroke-linejoin="round" stroke-linecap="round" />
<circle cx="160" cy="146.7" r="2.6" fill="#222"/>
<path d="M169.0,139.0 L172.0,137.5 L174.0,139.5 L172.0,142.0 L169.5,141.5 Z" fill="#222" stroke="#111" stroke-width="0.6" stroke-linejoin="round" />
<path d="M184.8,489.8 L192.0,489.8 L199.4,487.7 L200.4,481.5 L205.6,480.4 L205.6,506.5 L199.4,508.5 L192.0,510.6 L185.8,510.6 Z" fill="#8e8e8e" stroke="#1a1a1a" stroke-width="1" stroke-linejoin="round" />
<path d="M199.4,488 L199.4,508" fill="none" stroke="#555" stroke-width="0.8" stroke-linejoin="round" stroke-linecap="round" />
<path d="M106.7,532.5 L114.6,524.6 L189.6,482.5 L186.0,489.8 L185.8,510.6 L106.7,557.5 Z" fill="#8a8a8a" stroke="#1a1a1a" stroke-width="1.1" stroke-linejoin="round" />
<path d="M114.0,518.3 L189.0,477.3 L189.6,482.5 L114.6,524.6 Z" fill="#7a7a7a" stroke="#1a1a1a" stroke-width="1.1" stroke-linejoin="round" />
<circle cx="121" cy="519.5" r="0.9" fill="#222"/><circle cx="183" cy="484" r="0.9" fill="#222"/>
<path d="M98.3,541.9 L106.7,538.8 L106.7,557.5 L105.6,561.7 L99.4,565.8 L98.3,553.3 Z" fill="#858585" stroke="#1a1a1a" stroke-width="1" stroke-linejoin="round" />
<path d="M113.0,541.9 L131.7,530.4 L142.0,514.8 L152.5,509.6 L175.4,504.4 L175.4,508.5 L152.5,518.0 L144.0,532.5 L125.4,540.8 L115.0,545.0 Z" fill="#333" stroke="#1a1a1a" stroke-width="0.9" stroke-linejoin="round" />
<ellipse cx="146" cy="521" rx="5" ry="8" fill="#2a2a2a" stroke="#1a1a1a" stroke-width="1" transform="rotate(-25 146 521)"/>
<path d="M118,541 L128,536 M132,533 L138,530 M156,512 L163,510 M166,508 L172,507" fill="none" stroke="#8a8a8a" stroke-width="1" stroke-linejoin="round" stroke-linecap="round" />
<circle cx="141" cy="461" r="2" fill="#222"/>
<path d="M141,461 L144,463" fill="none" stroke="#222" stroke-width="1.6" stroke-linejoin="round" stroke-linecap="round" />
<circle cx="164" cy="466" r="2" fill="#222"/>
<path d="M164,466 L167,468" fill="none" stroke="#222" stroke-width="1.6" stroke-linejoin="round" stroke-linecap="round" />
<circle cx="82" cy="495" r="2" fill="#222"/>
<path d="M82,495 L85,497" fill="none" stroke="#222" stroke-width="1.6" stroke-linejoin="round" stroke-linecap="round" />
<circle cx="61" cy="525" r="2" fill="#222"/>
<path d="M61,525 L64,527" fill="none" stroke="#222" stroke-width="1.6" stroke-linejoin="round" stroke-linecap="round" />
<path d="M188.5,575.0 L192.0,572.0 L200.0,571.0 L200.5,622.0 L194.0,626.0 L189.0,622.0 Z" fill="#8e8e8e" stroke="#1a1a1a" stroke-width="1.1" stroke-linejoin="round" />
<circle cx="194" cy="585" r="1" fill="#222"/><circle cx="194" cy="600" r="1" fill="#222"/><circle cx="194" cy="612" r="1" fill="#222"/>
<ellipse cx="168.7" cy="577.5" rx="3.8" ry="4.2" fill="#333"/>
<path d="M168.5,581 L169.5,599" fill="none" stroke="#333" stroke-width="3.6" stroke-linejoin="round" stroke-linecap="round" />
<path d="M164.5,598.0 L173.5,598.0 L175.0,614.0 L163.0,614.0 Z" fill="#3a3a3a" stroke="#111" stroke-width="0.8" stroke-linejoin="round" />
<path d="M160.7,614.7 L172.0,612.0 L176.7,616.0 L176.7,658.7 L172.0,661.0 L160.7,656.0 Z" fill="#404040" stroke="#111" stroke-width="0.9" stroke-linejoin="round" />
<path d="M172,614 L172,660" fill="none" stroke="#222" stroke-width="0.8" stroke-linejoin="round" stroke-linecap="round" />
<circle cx="165" cy="625" r="0.8" fill="#999"/><circle cx="165" cy="640" r="0.8" fill="#999"/><circle cx="168" cy="650" r="0.8" fill="#999"/>
<path d="M144.7,606.0 L148.0,604.0 L150.0,606.0 L150.0,614.7 L146.0,615.0 L144.7,612.0 Z" fill="#444" stroke="#111" stroke-width="0.6" stroke-linejoin="round" />
<path d="M130,640 L139,636 M135,644 L143,640" fill="none" stroke="#222" stroke-width="2.4" stroke-linejoin="round" stroke-linecap="round" />
<circle cx="150" cy="629.3" r="1.6" fill="#222"/><circle cx="156.7" cy="632.5" r="1.6" fill="#222"/>
<path d="M153.5,668 L153.5,697 M162,670 L162,699" fill="none" stroke="#222" stroke-width="3.4" stroke-linejoin="round" stroke-linecap="round" />
<ellipse cx="153.5" cy="668" rx="2.4" ry="3" fill="#333"/><ellipse cx="162" cy="670" rx="2.4" ry="3" fill="#333"/><ellipse cx="153.5" cy="690" rx="2.2" ry="3.5" fill="#333"/><ellipse cx="162" cy="692" rx="2.2" ry="3.5" fill="#333"/>
<path d="M151.0,672.0 L156.0,671.0 L156.0,680.0 L151.0,681.0 Z" fill="#222" stroke="#111" stroke-width="0.5" stroke-linejoin="round" />
<path d="M160.0,674.0 L165.0,673.0 L165.0,682.0 L160.0,683.0 Z" fill="#222" stroke="#111" stroke-width="0.5" stroke-linejoin="round" />
<path d="M173.0,593.0 L177.0,592.0 L180.0,595.0 L180.0,600.0 L176.0,601.0 L173.0,598.0 Z" fill="#555" stroke="#111" stroke-width="0.7" stroke-linejoin="round" />
<path d="M182.0,598.0 L187.0,596.0 L191.0,598.5 L191.5,605.0 L187.5,606.5 L183.0,604.0 Z" fill="#666" stroke="#111" stroke-width="0.7" stroke-linejoin="round" />
<circle cx="61.2" cy="702" r="4.5" fill="#2a2a2a"/><circle cx="61.2" cy="702" r="1.5" fill="#666"/>
<circle cx="70.8" cy="708" r="4.5" fill="#2a2a2a"/><circle cx="70.8" cy="708" r="1.5" fill="#666"/>
<ellipse cx="83.3" cy="714.2" rx="4.6" ry="6" fill="#bbb" stroke="#1e1e1e" stroke-width="1.4"/><ellipse cx="83.3" cy="714.2" rx="1.6" ry="2" fill="#333"/>
<path d="M85.0,712.0 L96.0,714.0 L100.0,724.0 L95.0,727.0 L85.0,722.0 Z" fill="#2a2a2a" stroke="#111" stroke-width="0.8" stroke-linejoin="round" />
<path d="M88,713 L92,725 M91,713 L95,726 M94,715 L98,726" fill="none" stroke="#555" stroke-width="0.8" stroke-linejoin="round" stroke-linecap="round" />
<path d="M98,720 C100,705 103,699 108,697.5 M92,724 C88,732 84,738 78,739" fill="none" stroke="#222" stroke-width="1.6" stroke-linejoin="round" stroke-linecap="round" />
<path d="M100,724 L118,735" fill="none" stroke="#1e1e1e" stroke-width="4.2" stroke-linejoin="round" stroke-linecap="round" />
<path d="M100,724 L118,735" fill="none" stroke="#888" stroke-width="2.2" stroke-linejoin="round" stroke-linecap="round" />
<ellipse cx="100" cy="724.2" rx="4.5" ry="6.2" fill="#bbb" stroke="#1e1e1e" stroke-width="1.4"/><ellipse cx="100" cy="724.2" rx="1.4" ry="1.8" fill="#333"/>
<circle cx="119.2" cy="735.8" r="3.6" fill="#333"/>
<path d="M35.0,723.3 L38.3,720.8 L45.0,719.0 L49.2,724.0 L53.3,726.7 L52.5,730.0 L50.0,731.7 L48.3,743.3 L48.3,761.7 L46.7,764.0 L40.0,763.3 L39.2,760.0 L44.2,758.3 L44.2,735.0 L41.7,728.3 L35.8,725.8 Z" fill="#6e6e6e" stroke="#1e1e1e" stroke-width="1.1" stroke-linejoin="round" />
<circle cx="59" cy="734" r="3.8" fill="#2a2a2a"/><circle cx="59" cy="734" r="1.3" fill="#666"/>
<path d="M82,747 L91,751.5" fill="none" stroke="#1e1e1e" stroke-width="3.8" stroke-linejoin="round" stroke-linecap="round" />
<path d="M82,747 L91,751.5" fill="none" stroke="#888" stroke-width="1.8" stroke-linejoin="round" stroke-linecap="round" />
<circle cx="92" cy="752" r="3" fill="#333"/>
<path d="M313.5,455.2 L312.0,455.5 L310.6,455.8 L309.1,456.3 L307.7,456.8 L306.3,457.4 L305.0,458.1 L303.7,458.8 L302.4,459.7 L301.3,460.6 L300.1,461.6 L299.0,462.6 L298.0,463.7 L297.1,464.9 L296.2,466.1 L295.4,467.4 L294.7,468.7 L294.0,470.1 L293.5,471.5 L293.0,472.9 L292.6,474.4 L292.3,475.9 L292.1,477.3 L292.0,478.8 L292.0,480.3 L292.1,481.9 L292.2,483.3 L292.5,484.8 L292.8,486.3 L293.2,487.7 L293.7,489.2 L294.3,490.5 L295.0,491.9 L295.8,493.2 L296.6,494.4 L297.5,495.6 L298.5,496.8 L299.5,497.9 L300.6,498.9 L301.8,499.8 L303.0,500.7 L304.3,501.5 L305.6,502.3 L307.0,502.9 L308.4,503.5 L309.8,503.9 L311.2,504.3 L312.7,504.6 L314.2,504.8 L315.7,505.0 L317.2,505.0 L318.7,504.9 L320.2,504.8 L321.7,504.6 L323.2,504.2 L324.6,503.8 L326.0,503.3 L327.4,502.7 L328.8,502.1 L330.1,501.3 L331.3,500.5" fill="none" stroke="#1e1e1e" stroke-width="1.5" stroke-linejoin="round" stroke-linecap="round" stroke-dasharray="6.5,3.2"/>
<path d="M334,453 L317,449.8 L319,453.6 L317,457.4 Z" fill="#1e1e1e"/>
<path d="M303.0,480.0 L308.0,478.0 L310.0,481.0 L310.0,497.0 L306.0,499.0 L303.0,496.0 Z" fill="#2a2a2a" stroke="#111" stroke-width="0.6" stroke-linejoin="round" />
<path d="M303,482 L311,480" fill="none" stroke="#222" stroke-width="2" stroke-linejoin="round" stroke-linecap="round" />
<path d="M311,471 L339,487" fill="none" stroke="#1e1e1e" stroke-width="3.2" stroke-linejoin="round" stroke-linecap="round" />
<circle cx="313" cy="472" r="2.4" fill="#222"/><circle cx="318" cy="474.5" r="2.4" fill="#222"/><circle cx="324" cy="477.5" r="2.6" fill="#333"/><circle cx="329" cy="480.5" r="2.6" fill="#222"/>
<path d="M331,470 C328,472 328,478 331,481" fill="none" stroke="#222" stroke-width="1.5" stroke-linejoin="round" stroke-linecap="round" />
<path d="M321,489 L324,493" fill="none" stroke="#222" stroke-width="2.4" stroke-linejoin="round" stroke-linecap="round" />
<circle cx="338.5" cy="497.5" r="4.4" fill="#777" stroke="#1e1e1e" stroke-width="1"/>
<path d="M339,502 L341,540" fill="none" stroke="#1e1e1e" stroke-width="2.6" stroke-linejoin="round" stroke-linecap="round" />
<path d="M331.0,519.0 L335.0,518.0 L343.0,522.0 L343.0,530.0 L337.0,528.0 L331.0,524.0 Z" fill="#6a6a6a" stroke="#1e1e1e" stroke-width="0.8" stroke-linejoin="round" />
<path d="M349.0,526.0 L352.0,524.0 L355.0,526.0 L355.0,537.0 L352.0,539.0 L349.0,537.0 Z" fill="#3a3a3a" stroke="#111" stroke-width="0.6" stroke-linejoin="round" />
<circle cx="352" cy="521.6" r="1.6" fill="#222"/><circle cx="331" cy="512" r="1.4" fill="#222"/><circle cx="331" cy="531" r="1.6" fill="#222"/><circle cx="383" cy="546" r="1.5" fill="#222"/>
<path d="M361.0,542.0 L365.0,539.0 L371.0,538.0 L376.0,541.0 L377.0,547.0 L374.0,551.0 L368.0,552.0 L363.0,549.0 Z" fill="#2a2a2a" stroke="#111" stroke-width="0.8" stroke-linejoin="round" />
<path d="M349,345.8 C356,348 362,350 368.5,352.7 C373,356 376,361 379,363.2 C383,365 386,366 388.3,366.7 C393,368 397,369 400,370.2 C404,371.5 408,372.5 410.5,373.7 C414,375 417,377 418.7,378.3 C421,380 422,382 423.3,384.2 C426,387 428,389 430.3,391" fill="none" stroke="#1e1e1e" stroke-width="3" stroke-linejoin="round" stroke-linecap="round" />
<path d="M352,347 C358,349 364,351 368.5,353" fill="none" stroke="#555" stroke-width="0.8" stroke-linejoin="round" stroke-linecap="round" />
<path d="M342.0,341.0 L347.0,339.5 L350.0,344.0 L349.0,347.5 L344.0,348.0 Z" fill="#2a2a2a" stroke="#111" stroke-width="0.6" stroke-linejoin="round" />
<path d="M419.0,392.0 L424.0,389.0 L452.0,405.0 L455.0,412.0 L452.0,415.0 L420.0,399.0 Z" fill="#2e2e2e" stroke="#111" stroke-width="0.8" stroke-linejoin="round" />
<path d="M423,399 L423,433" fill="none" stroke="#1e1e1e" stroke-width="2.8" stroke-linejoin="round" stroke-linecap="round" />
<circle cx="423" cy="433.5" r="1.8" fill="#222"/>
<path d="M435,414 L428,442" fill="none" stroke="#1e1e1e" stroke-width="3" stroke-linejoin="round" stroke-linecap="round" />
<path d="M446.0,396.0 L449.0,394.0 L452.0,396.0 L451.0,399.0 L447.0,399.0 Z" fill="#333" stroke="#111" stroke-width="0.6" stroke-linejoin="round" />
<path d="M454,414 L506,410" fill="none" stroke="#1e1e1e" stroke-width="3.2" stroke-linejoin="round" stroke-linecap="round" />
<path d="M456,413.8 L504,410.2" fill="none" stroke="#8a8a8a" stroke-width="1.2" stroke-linejoin="round" stroke-linecap="round" />
<circle cx="506.5" cy="409.8" r="2" fill="#333"/><circle cx="455" cy="414" r="2.2" fill="#333"/>
<path d="M519.0,406.0 L522.0,403.5 L527.0,403.5 L530.0,406.0 L529.5,414.0 L524.0,415.0 L519.0,412.0 Z" fill="#3a3a3a" stroke="#111" stroke-width="0.8" stroke-linejoin="round" />
<path d="M449,434 L449,468" fill="none" stroke="#1e1e1e" stroke-width="2.8" stroke-linejoin="round" stroke-linecap="round" />
<circle cx="449" cy="468" r="1.8" fill="#222"/>
<path d="M422.8,449.0 L428.0,447.0 L433.2,448.5 L433.0,456.0 L428.0,457.8 L422.8,456.0 Z" fill="#4a4a4a" stroke="#111" stroke-width="0.8" stroke-linejoin="round" />
<path d="M335.3,432 L335.3,435" fill="none" stroke="#222" stroke-width="2.2" stroke-linejoin="round" stroke-linecap="round" />
<ellipse cx="335.3" cy="432" rx="2.0" ry="1.3" fill="#222"/>
<path d="M335.3,439 L335.3,443" fill="none" stroke="#222" stroke-width="2.2" stroke-linejoin="round" stroke-linecap="round" />
<ellipse cx="335.3" cy="439" rx="2.0" ry="1.3" fill="#222"/>
<path d="M320.5,436 L320.5,442" fill="none" stroke="#222" stroke-width="2.2" stroke-linejoin="round" stroke-linecap="round" />
<ellipse cx="320.5" cy="436" rx="2.0" ry="1.3" fill="#222"/>
<path d="M320.5,445 L320.5,449" fill="none" stroke="#222" stroke-width="2.2" stroke-linejoin="round" stroke-linecap="round" />
<ellipse cx="320.5" cy="445" rx="2.0" ry="1.3" fill="#222"/>
<path d="M253,451 L253,456" fill="none" stroke="#222" stroke-width="2.2" stroke-linejoin="round" stroke-linecap="round" />
<ellipse cx="253" cy="451" rx="2.0" ry="1.3" fill="#222"/>
<path d="M253,458.5 L253,462.5" fill="none" stroke="#222" stroke-width="2.2" stroke-linejoin="round" stroke-linecap="round" />
<ellipse cx="253" cy="458.5" rx="2.0" ry="1.3" fill="#222"/>
<circle cx="328.5" cy="317" r="2.1" fill="#222"/>
<circle cx="236" cy="318" r="2.5" fill="#222"/>
<circle cx="236" cy="413" r="2.1" fill="#222"/>
<circle cx="280" cy="427" r="2.1" fill="#222"/>
<circle cx="349" cy="402" r="2.1" fill="#222"/>
<path d="M487,714.8 C500,722 512,728 526.8,734.3" fill="none" stroke="#1e1e1e" stroke-width="5.4" stroke-linejoin="round" stroke-linecap="round" />
<path d="M487,714.8 C500,722 512,728 526.8,734.3" fill="none" stroke="#bdbdbd" stroke-width="3.2" stroke-linejoin="round" stroke-linecap="round" />
<path d="M453.7,715.8 L453.7,733.2 A11.3,5.4 0 0 0 476.3,733.2 L476.3,715.8 Z" fill="#9a9a9a" stroke="#1e1e1e" stroke-width="1"/>
<path d="M453.7,730.2 A11.3,5.4 0 0 0 476.3,730.2" fill="none" stroke="#444" stroke-width="1.5" stroke-dasharray="1.5,1.5"/>
<ellipse cx="465" cy="715.8" rx="11.3" ry="5.4" fill="#3a3a3a" stroke="#1e1e1e" stroke-width="1"/>
<ellipse cx="465" cy="715.8" rx="7.0" ry="3.0" fill="#e6e6e6"/>
<path d="M447,688 L456,693" fill="none" stroke="#1e1e1e" stroke-width="4" stroke-linejoin="round" stroke-linecap="round" />
<path d="M453.0,693.0 L458.0,689.5 L466.0,690.0 L473.0,695.0 L475.0,703.0 L470.0,708.0 L460.0,708.5 L455.0,703.0 Z" fill="#303030" stroke="#111" stroke-width="0.9" stroke-linejoin="round" />
<circle cx="460" cy="697" r="1.6" fill="#777"/><circle cx="467" cy="699" r="1.6" fill="#777"/><circle cx="463" cy="703" r="1.4" fill="#666"/>
<path d="M475,705 L487,714" fill="none" stroke="#1e1e1e" stroke-width="4.2" stroke-linejoin="round" stroke-linecap="round" />
<circle cx="485" cy="712.5" r="3" fill="#2a2a2a"/>
<path d="M462.8,683 L462.8,687" fill="none" stroke="#222" stroke-width="2.2" stroke-linejoin="round" stroke-linecap="round" />
<ellipse cx="462.8" cy="683" rx="2.0" ry="1.3" fill="#222"/>
<path d="M468.3,680 L468.3,684" fill="none" stroke="#222" stroke-width="2.2" stroke-linejoin="round" stroke-linecap="round" />
<ellipse cx="468.3" cy="680" rx="2.0" ry="1.3" fill="#222"/>
<circle cx="462.8" cy="689.5" r="1.2" fill="#222"/><circle cx="468.3" cy="686.5" r="1.2" fill="#222"/>
<path d="M450,738.6 C462,748 472,755 483.4,763.5" fill="none" stroke="#1e1e1e" stroke-width="5.4" stroke-linejoin="round" stroke-linecap="round" />
<path d="M450,738.6 C462,748 472,755 483.4,763.5" fill="none" stroke="#bdbdbd" stroke-width="3.2" stroke-linejoin="round" stroke-linecap="round" />
<path d="M415.2,740 L415.2,758.3 A11.3,5.4 0 0 0 437.8,758.3 L437.8,740 Z" fill="#9a9a9a" stroke="#1e1e1e" stroke-width="1"/>
<path d="M415.2,755.3 A11.3,5.4 0 0 0 437.8,755.3" fill="none" stroke="#444" stroke-width="1.5" stroke-dasharray="1.5,1.5"/>
<ellipse cx="426.5" cy="740" rx="11.3" ry="5.4" fill="#3a3a3a" stroke="#1e1e1e" stroke-width="1"/>
<ellipse cx="426.5" cy="740" rx="7.0" ry="3.0" fill="#e6e6e6"/>
<path d="M409,710.4 L418.4,717" fill="none" stroke="#1e1e1e" stroke-width="4" stroke-linejoin="round" stroke-linecap="round" />
<path d="M418.5,719.0 L424.0,714.5 L433.0,715.0 L439.0,720.0 L441.0,728.0 L436.0,731.5 L426.0,732.0 L420.0,726.0 Z" fill="#303030" stroke="#111" stroke-width="0.9" stroke-linejoin="round" />
<circle cx="425" cy="721" r="1.6" fill="#777"/><circle cx="432" cy="723" r="1.6" fill="#777"/><circle cx="428" cy="727" r="1.4" fill="#666"/>
<path d="M441,729 L450,737.5" fill="none" stroke="#1e1e1e" stroke-width="4.2" stroke-linejoin="round" stroke-linecap="round" />
<circle cx="448" cy="736" r="3" fill="#2a2a2a"/>
<path d="M423.8,706 L423.8,710" fill="none" stroke="#222" stroke-width="2.2" stroke-linejoin="round" stroke-linecap="round" />
<ellipse cx="423.8" cy="706" rx="2.0" ry="1.3" fill="#222"/>
<path d="M430.3,703 L430.3,707" fill="none" stroke="#222" stroke-width="2.2" stroke-linejoin="round" stroke-linecap="round" />
<ellipse cx="430.3" cy="703" rx="2.0" ry="1.3" fill="#222"/>
<path d="M487.0,766.0 L490.0,764.5 L492.0,767.0 L490.5,770.0 L487.5,770.0 Z" fill="#222" stroke="#111" stroke-width="0.6" stroke-linejoin="round" />
<path d="M530.7,734.0 L534.0,732.4 L535.5,740.0 L532.0,741.8 Z" fill="#222" stroke="#111" stroke-width="0.7" stroke-linejoin="round" />
<path d="M531.5,736.5 L534.8,735 M532,739 L535.2,737.5" fill="none" stroke="#888" stroke-width="0.6" stroke-linejoin="round" stroke-linecap="round" />
<path d="M433.6,672.5 C438,664 446,658 455,656.3" fill="none" stroke="#1e1e1e" stroke-width="5" stroke-linejoin="round" stroke-linecap="round" />
<path d="M433.6,672.5 C438,664 446,658 455,656.3" fill="none" stroke="#bdbdbd" stroke-width="2.8" stroke-linejoin="round" stroke-linecap="round" />
<path d="M446.6,653.0 L452.0,651.5 L457.4,654.0 L457.0,657.5 L450.0,658.0 Z" fill="#2a2a2a" stroke="#111" stroke-width="0.6" stroke-linejoin="round" />
<circle cx="427" cy="666" r="3" fill="#222"/><circle cx="424" cy="676" r="2.6" fill="#333"/>
<path d="M271.5,669 L271.5,687" fill="none" stroke="#1e1e1e" stroke-width="4.6" stroke-linejoin="round" stroke-linecap="round" />
<path d="M271.5,670 L271.5,686.5" fill="none" stroke="#c4c4c4" stroke-width="2.5999999999999996" stroke-linejoin="round" stroke-linecap="round" />
<ellipse cx="271.5" cy="669" rx="2.6" ry="1.6" fill="#555" stroke="#1e1e1e" stroke-width="0.8"/>
<circle cx="272" cy="693.3" r="3" fill="#222"/>
<path d="M336.7,631 L336.7,649.5" fill="none" stroke="#1e1e1e" stroke-width="4.6" stroke-linejoin="round" stroke-linecap="round" />
<path d="M336.7,632 L336.7,649.0" fill="none" stroke="#c4c4c4" stroke-width="2.5999999999999996" stroke-linejoin="round" stroke-linecap="round" />
<ellipse cx="336.7" cy="631" rx="2.6" ry="1.6" fill="#555" stroke="#1e1e1e" stroke-width="0.8"/>
<circle cx="336.7" cy="656" r="3" fill="#222"/>
<path d="M223.5,647 L223.5,662" fill="none" stroke="#1e1e1e" stroke-width="3.6" stroke-linejoin="round" stroke-linecap="round" />
<circle cx="223.5" cy="648" r="2.2" fill="#222"/>
<circle cx="223.5" cy="660" r="2.8" fill="#222"/>
<path d="M288.7,665 L288.7,681" fill="none" stroke="#1e1e1e" stroke-width="3.6" stroke-linejoin="round" stroke-linecap="round" />
<circle cx="288.7" cy="667" r="2.6" fill="#222"/>
<circle cx="288.7" cy="675" r="2.8" fill="#222"/>
<circle cx="288.7" cy="681" r="2.6" fill="#222"/>
<path d="M467.0,530.0 L470.0,527.5 L473.0,530.0 L475.5,542.0 L471.0,545.5 L466.0,545.0 L464.5,542.0 Z" fill="#5a5a5a" stroke="#1a1a1a" stroke-width="0.9" stroke-linejoin="round" />
<path d="M468,530 L466.5,543" fill="none" stroke="#888" stroke-width="1" stroke-linejoin="round" stroke-linecap="round" />
<path d="M406.0,565.0 L409.0,562.0 L412.0,565.0 L415.0,577.5 L410.0,580.5 L404.0,580.0 L402.5,577.0 Z" fill="#5a5a5a" stroke="#1a1a1a" stroke-width="0.9" stroke-linejoin="round" />
<path d="M407,565 L405,578" fill="none" stroke="#888" stroke-width="1" stroke-linejoin="round" stroke-linecap="round" />
<circle cx="469" cy="561.5" r="2.2" fill="#222"/>
<circle cx="408.5" cy="596.5" r="2.2" fill="#222"/>
<path d="M461,610 C466,613 470,616 476,614 M476,614 C478,618 478,622 480,627 M474,612 L480,608" fill="none" stroke="#1e1e1e" stroke-width="1.8" stroke-linejoin="round" stroke-linecap="round" />
<circle cx="326.7" cy="400" r="2.3" fill="#222"/>
<circle cx="211" cy="370.5" r="3" fill="#222"/>
<circle cx="205.5" cy="374" r="2.6" fill="#222"/>
<circle cx="199" cy="377.5" r="2" fill="#222"/>
<path d="M41.0,37.0 L44.0,52.0" fill="none" stroke="#8f8f8f" stroke-width="1"/>
<path d="M44.0,52.0 L40.3,46.6 L45.4,45.6 Z" fill="#8a8a8a" stroke="#8a8a8a" stroke-width="0.5"/>
<path d="M97.0,20.0 L65.0,38.5" fill="none" stroke="#8f8f8f" stroke-width="1"/>
<path d="M65.0,38.5 L68.9,33.2 L71.5,37.7 Z" fill="#8a8a8a" stroke="#8a8a8a" stroke-width="0.5"/>
<path d="M126.0,49.0 L98.0,72.0" fill="none" stroke="#8f8f8f" stroke-width="1"/>
<path d="M98.0,72.0 L101.0,66.2 L104.3,70.2 Z" fill="#8a8a8a" stroke="#8a8a8a" stroke-width="0.5"/>
<path d="M150.0,74.0 L140.0,117.0" fill="none" stroke="#8f8f8f" stroke-width="1"/>
<path d="M140.0,117.0 L138.8,110.6 L143.9,111.7 Z" fill="#8a8a8a" stroke="#8a8a8a" stroke-width="0.5"/>
<path d="M169.0,108.0 L163.0,140.0" fill="none" stroke="#8f8f8f" stroke-width="1"/>
<path d="M163.0,140.0 L161.6,133.6 L166.7,134.6 Z" fill="#8a8a8a" stroke="#8a8a8a" stroke-width="0.5"/>
<path d="M188.0,122.0 L176.0,138.0" fill="none" stroke="#8f8f8f" stroke-width="1"/>
<path d="M176.0,138.0 L177.5,131.6 L181.7,134.8 Z" fill="#8a8a8a" stroke="#8a8a8a" stroke-width="0.5"/>
<path d="M40.0,146.0 L43.0,108.0" fill="none" stroke="#8f8f8f" stroke-width="1"/>
<path d="M43.0,108.0 L45.1,114.2 L39.9,113.8 Z" fill="#8a8a8a" stroke="#8a8a8a" stroke-width="0.5"/>
<path d="M109.0,151.0 L100.0,122.0" fill="none" stroke="#8f8f8f" stroke-width="1"/>
<path d="M100.0,122.0 L104.3,127.0 L99.3,128.5 Z" fill="#8a8a8a" stroke="#8a8a8a" stroke-width="0.5"/>
<path d="M53.0,171.0 L51.0,145.0 L64.0,125.0" fill="none" stroke="#8f8f8f" stroke-width="1"/>
<path d="M64.0,125.0 L62.9,131.4 L58.6,128.6 Z" fill="#8a8a8a" stroke="#8a8a8a" stroke-width="0.5"/>
<path d="M241.0,158.0 L257.0,152.0" fill="none" stroke="#8f8f8f" stroke-width="1"/>
<path d="M257.0,152.0 L252.3,156.5 L250.5,151.7 Z" fill="#8a8a8a" stroke="#8a8a8a" stroke-width="0.5"/>
<path d="M394.0,159.0 L388.0,171.0" fill="none" stroke="#8f8f8f" stroke-width="1"/>
<path d="M388.0,171.0 L388.4,164.5 L393.0,166.8 Z" fill="#8a8a8a" stroke="#8a8a8a" stroke-width="0.5"/>
<path d="M533.0,26.0 L538.0,70.0" fill="none" stroke="#8f8f8f" stroke-width="1"/>
<path d="M538.0,70.0 L534.7,64.3 L539.9,63.7 Z" fill="#8a8a8a" stroke="#8a8a8a" stroke-width="0.5"/>
<path d="M551.0,39.0 L550.0,69.0" fill="none" stroke="#8f8f8f" stroke-width="1"/>
<path d="M550.0,69.0 L547.6,62.9 L552.8,63.1 Z" fill="#8a8a8a" stroke="#8a8a8a" stroke-width="0.5"/>
<path d="M493.0,40.0 L518.0,37.0" fill="none" stroke="#8f8f8f" stroke-width="1"/>
<path d="M518.0,37.0 L512.4,40.3 L511.7,35.1 Z" fill="#8a8a8a" stroke="#8a8a8a" stroke-width="0.5"/>
<path d="M568.0,58.0 L562.0,77.0" fill="none" stroke="#8f8f8f" stroke-width="1"/>
<path d="M562.0,77.0 L561.3,70.5 L566.3,72.1 Z" fill="#8a8a8a" stroke="#8a8a8a" stroke-width="0.5"/>
<path d="M476.0,88.0 L488.0,93.0" fill="none" stroke="#8f8f8f" stroke-width="1"/>
<path d="M488.0,93.0 L481.5,93.1 L483.5,88.3 Z" fill="#8a8a8a" stroke="#8a8a8a" stroke-width="0.5"/>
<path d="M467.0,118.0 L487.0,133.0" fill="none" stroke="#8f8f8f" stroke-width="1"/>
<path d="M487.0,133.0 L480.6,131.5 L483.8,127.3 Z" fill="#8a8a8a" stroke="#8a8a8a" stroke-width="0.5"/>
<path d="M452.0,145.0 L465.0,153.0" fill="none" stroke="#8f8f8f" stroke-width="1"/>
<path d="M465.0,153.0 L458.5,152.1 L461.3,147.6 Z" fill="#8a8a8a" stroke="#8a8a8a" stroke-width="0.5"/>
<path d="M565.0,131.0 L568.0,100.0" fill="none" stroke="#8f8f8f" stroke-width="1"/>
<path d="M568.0,100.0 L570.0,106.2 L564.8,105.7 Z" fill="#8a8a8a" stroke="#8a8a8a" stroke-width="0.5"/>
<path d="M472.0,207.0 L497.0,220.0" fill="none" stroke="#8f8f8f" stroke-width="1"/>
<path d="M497.0,220.0 L490.5,219.5 L492.9,214.9 Z" fill="#8a8a8a" stroke="#8a8a8a" stroke-width="0.5"/>
<path d="M538.0,237.0 L517.0,233.0" fill="none" stroke="#8f8f8f" stroke-width="1"/>
<path d="M517.0,233.0 L523.4,231.6 L522.4,236.7 Z" fill="#8a8a8a" stroke="#8a8a8a" stroke-width="0.5"/>
<path d="M122.0,235.0 L129.0,226.0" fill="none" stroke="#8f8f8f" stroke-width="1"/>
<path d="M129.0,226.0 L127.4,232.3 L123.3,229.1 Z" fill="#8a8a8a" stroke="#8a8a8a" stroke-width="0.5"/>
<path d="M196.0,263.0 L229.0,254.0" fill="none" stroke="#8f8f8f" stroke-width="1"/>
<path d="M229.0,254.0 L223.9,258.1 L222.5,253.1 Z" fill="#8a8a8a" stroke="#8a8a8a" stroke-width="0.5"/>
<path d="M390.0,250.0 L374.0,247.0" fill="none" stroke="#8f8f8f" stroke-width="1"/>
<path d="M374.0,247.0 L380.4,245.6 L379.4,250.7 Z" fill="#8a8a8a" stroke="#8a8a8a" stroke-width="0.5"/>
<path d="M371.0,287.0 L345.0,279.0" fill="none" stroke="#8f8f8f" stroke-width="1"/>
<path d="M345.0,279.0 L351.5,278.3 L350.0,283.2 Z" fill="#8a8a8a" stroke="#8a8a8a" stroke-width="0.5"/>
<path d="M160.0,295.0 L175.0,302.0" fill="none" stroke="#8f8f8f" stroke-width="1"/>
<path d="M175.0,302.0 L168.5,301.8 L170.7,297.1 Z" fill="#8a8a8a" stroke="#8a8a8a" stroke-width="0.5"/>
<path d="M99.0,312.0 L101.0,327.0" fill="none" stroke="#8f8f8f" stroke-width="1"/>
<path d="M101.0,327.0 L97.6,321.4 L102.8,320.7 Z" fill="#8a8a8a" stroke="#8a8a8a" stroke-width="0.5"/>
<path d="M214.0,307.0 L227.0,300.0" fill="none" stroke="#8f8f8f" stroke-width="1"/>
<path d="M227.0,300.0 L222.9,305.1 L220.5,300.6 Z" fill="#8a8a8a" stroke="#8a8a8a" stroke-width="0.5"/>
<path d="M346.0,323.0 L328.0,317.0" fill="none" stroke="#8f8f8f" stroke-width="1"/>
<path d="M328.0,317.0 L334.5,316.4 L332.9,321.4 Z" fill="#8a8a8a" stroke="#8a8a8a" stroke-width="0.5"/>
<path d="M225.0,327.0 L234.0,319.0" fill="none" stroke="#8f8f8f" stroke-width="1"/>
<path d="M234.0,319.0 L231.2,324.9 L227.8,321.0 Z" fill="#8a8a8a" stroke="#8a8a8a" stroke-width="0.5"/>
<path d="M255.0,345.0 L253.0,356.0" fill="none" stroke="#8f8f8f" stroke-width="1"/>
<path d="M253.0,356.0 L251.5,349.6 L256.6,350.6 Z" fill="#8a8a8a" stroke="#8a8a8a" stroke-width="0.5"/>
<path d="M388.0,350.0 L368.0,352.0" fill="none" stroke="#8f8f8f" stroke-width="1"/>
<path d="M368.0,352.0 L373.7,348.8 L374.2,354.0 Z" fill="#8a8a8a" stroke="#8a8a8a" stroke-width="0.5"/>
<path d="M145.0,384.0 L150.0,367.0" fill="none" stroke="#8f8f8f" stroke-width="1"/>
<path d="M150.0,367.0 L150.8,373.5 L145.8,372.0 Z" fill="#8a8a8a" stroke="#8a8a8a" stroke-width="0.5"/>
<path d="M180.0,380.0 L196.0,365.0 L208.0,366.5" fill="none" stroke="#8f8f8f" stroke-width="1"/>
<path d="M208.0,366.5 L201.7,368.3 L202.4,363.2 Z" fill="#8a8a8a" stroke="#8a8a8a" stroke-width="0.5"/>
<path d="M177.5,415.0 L195.0,372.5 L203.0,373.5" fill="none" stroke="#8f8f8f" stroke-width="1"/>
<path d="M203.0,373.5 L196.7,375.3 L197.4,370.2 Z" fill="#8a8a8a" stroke="#8a8a8a" stroke-width="0.5"/>
<path d="M203.0,404.0 L197.0,378.0" fill="none" stroke="#8f8f8f" stroke-width="1"/>
<path d="M197.0,378.0 L200.9,383.3 L195.8,384.4 Z" fill="#8a8a8a" stroke="#8a8a8a" stroke-width="0.5"/>
<path d="M226.5,427.5 L234.5,415.5" fill="none" stroke="#8f8f8f" stroke-width="1"/>
<path d="M234.5,415.5 L233.3,421.9 L229.0,419.1 Z" fill="#8a8a8a" stroke="#8a8a8a" stroke-width="0.5"/>
<path d="M265.0,431.0 L280.0,427.0" fill="none" stroke="#8f8f8f" stroke-width="1"/>
<path d="M280.0,427.0 L274.9,431.1 L273.5,426.0 Z" fill="#8a8a8a" stroke="#8a8a8a" stroke-width="0.5"/>
<path d="M311.0,435.0 L320.0,437.0" fill="none" stroke="#8f8f8f" stroke-width="1"/>
<path d="M320.0,437.0 L313.6,438.2 L314.7,433.2 Z" fill="#8a8a8a" stroke="#8a8a8a" stroke-width="0.5"/>
<path d="M348.0,423.0 L335.0,432.0" fill="none" stroke="#8f8f8f" stroke-width="1"/>
<path d="M335.0,432.0 L338.5,426.4 L341.4,430.7 Z" fill="#8a8a8a" stroke="#8a8a8a" stroke-width="0.5"/>
<path d="M350.0,444.0 L337.0,442.0" fill="none" stroke="#8f8f8f" stroke-width="1"/>
<path d="M337.0,442.0 L343.3,440.3 L342.5,445.5 Z" fill="#8a8a8a" stroke="#8a8a8a" stroke-width="0.5"/>
<path d="M301.0,451.0 L318.0,447.0" fill="none" stroke="#8f8f8f" stroke-width="1"/>
<path d="M318.0,447.0 L312.8,450.9 L311.6,445.8 Z" fill="#8a8a8a" stroke="#8a8a8a" stroke-width="0.5"/>
<path d="M237.0,468.0 L250.0,458.0" fill="none" stroke="#8f8f8f" stroke-width="1"/>
<path d="M250.0,458.0 L246.8,463.7 L243.7,459.6 Z" fill="#8a8a8a" stroke="#8a8a8a" stroke-width="0.5"/>
<path d="M250.0,478.0 L252.0,462.0" fill="none" stroke="#8f8f8f" stroke-width="1"/>
<path d="M252.0,462.0 L253.8,468.3 L248.7,467.6 Z" fill="#8a8a8a" stroke="#8a8a8a" stroke-width="0.5"/>
<path d="M450.0,380.0 L438.0,397.0" fill="none" stroke="#8f8f8f" stroke-width="1"/>
<path d="M438.0,397.0 L439.3,390.6 L443.6,393.6 Z" fill="#8a8a8a" stroke="#8a8a8a" stroke-width="0.5"/>
<path d="M472.0,380.0 L452.0,398.0" fill="none" stroke="#8f8f8f" stroke-width="1"/>
<path d="M452.0,398.0 L454.7,392.1 L458.2,395.9 Z" fill="#8a8a8a" stroke="#8a8a8a" stroke-width="0.5"/>
<path d="M508.0,388.0 L488.0,408.0" fill="none" stroke="#8f8f8f" stroke-width="1"/>
<path d="M488.0,408.0 L490.4,401.9 L494.1,405.6 Z" fill="#8a8a8a" stroke="#8a8a8a" stroke-width="0.5"/>
<path d="M473.0,428.0 L432.0,426.0" fill="none" stroke="#8f8f8f" stroke-width="1"/>
<path d="M432.0,426.0 L438.1,423.7 L437.9,428.9 Z" fill="#8a8a8a" stroke="#8a8a8a" stroke-width="0.5"/>
<path d="M518.0,435.0 L523.0,415.0" fill="none" stroke="#8f8f8f" stroke-width="1"/>
<path d="M523.0,415.0 L524.1,421.5 L519.0,420.2 Z" fill="#8a8a8a" stroke="#8a8a8a" stroke-width="0.5"/>
<path d="M465.0,453.0 L450.0,450.0" fill="none" stroke="#8f8f8f" stroke-width="1"/>
<path d="M450.0,450.0 L456.4,448.6 L455.4,453.7 Z" fill="#8a8a8a" stroke="#8a8a8a" stroke-width="0.5"/>
<path d="M438.0,471.0 L431.0,458.0" fill="none" stroke="#8f8f8f" stroke-width="1"/>
<path d="M431.0,458.0 L436.1,462.1 L431.6,464.5 Z" fill="#8a8a8a" stroke="#8a8a8a" stroke-width="0.5"/>
<path d="M123.0,450.0 L140.0,460.0" fill="none" stroke="#8f8f8f" stroke-width="1"/>
<path d="M140.0,460.0 L133.5,459.2 L136.1,454.7 Z" fill="#8a8a8a" stroke="#8a8a8a" stroke-width="0.5"/>
<path d="M116.0,483.0 L134.0,506.0" fill="none" stroke="#8f8f8f" stroke-width="1"/>
<path d="M134.0,506.0 L128.3,502.9 L132.3,499.7 Z" fill="#8a8a8a" stroke="#8a8a8a" stroke-width="0.5"/>
<path d="M227.0,533.0 L239.0,554.0" fill="none" stroke="#8f8f8f" stroke-width="1"/>
<path d="M239.0,554.0 L233.8,550.1 L238.3,547.5 Z" fill="#8a8a8a" stroke="#8a8a8a" stroke-width="0.5"/>
<path d="M438.0,507.0 L415.0,496.0" fill="none" stroke="#8f8f8f" stroke-width="1"/>
<path d="M415.0,496.0 L421.5,496.2 L419.3,500.9 Z" fill="#8a8a8a" stroke="#8a8a8a" stroke-width="0.5"/>
<path d="M508.0,518.0 L475.0,537.0" fill="none" stroke="#8f8f8f" stroke-width="1"/>
<path d="M475.0,537.0 L478.9,531.8 L481.5,536.3 Z" fill="#8a8a8a" stroke="#8a8a8a" stroke-width="0.5"/>
<path d="M413.0,533.0 L357.0,606.0" fill="none" stroke="#8f8f8f" stroke-width="1"/>
<path d="M357.0,606.0 L358.6,599.7 L362.7,602.8 Z" fill="#8a8a8a" stroke="#8a8a8a" stroke-width="0.5"/>
<path d="M420.0,552.0 L381.0,567.0 L378.0,641.0" fill="none" stroke="#8f8f8f" stroke-width="1"/>
<path d="M378.0,641.0 L375.6,634.9 L380.8,635.1 Z" fill="#8a8a8a" stroke="#8a8a8a" stroke-width="0.5"/>
<path d="M503.0,552.0 L473.0,560.0" fill="none" stroke="#8f8f8f" stroke-width="1"/>
<path d="M473.0,560.0 L478.1,555.9 L479.5,561.0 Z" fill="#8a8a8a" stroke="#8a8a8a" stroke-width="0.5"/>
<path d="M490.0,602.0 L478.0,612.0" fill="none" stroke="#8f8f8f" stroke-width="1"/>
<path d="M478.0,612.0 L480.9,606.2 L484.3,610.2 Z" fill="#8a8a8a" stroke="#8a8a8a" stroke-width="0.5"/>
<path d="M407.0,620.0 L396.0,626.0" fill="none" stroke="#8f8f8f" stroke-width="1"/>
<path d="M396.0,626.0 L400.0,620.8 L402.5,625.4 Z" fill="#8a8a8a" stroke="#8a8a8a" stroke-width="0.5"/>
<path d="M500.0,625.0 L450.0,637.0 L413.0,652.0" fill="none" stroke="#8f8f8f" stroke-width="1"/>
<path d="M413.0,652.0 L417.6,647.3 L419.5,652.2 Z" fill="#8a8a8a" stroke="#8a8a8a" stroke-width="0.5"/>
<path d="M518.0,641.0 L447.0,643.0 L430.0,660.0" fill="none" stroke="#8f8f8f" stroke-width="1"/>
<path d="M430.0,660.0 L432.4,653.9 L436.1,657.6 Z" fill="#8a8a8a" stroke="#8a8a8a" stroke-width="0.5"/>
<path d="M540.0,657.0 L458.0,657.0" fill="none" stroke="#8f8f8f" stroke-width="1"/>
<path d="M458.0,657.0 L464.0,654.4 L464.0,659.6 Z" fill="#8a8a8a" stroke="#8a8a8a" stroke-width="0.5"/>
<path d="M561.0,674.0 L470.0,680.0" fill="none" stroke="#8f8f8f" stroke-width="1"/>
<path d="M470.0,680.0 L475.8,677.0 L476.2,682.2 Z" fill="#8a8a8a" stroke="#8a8a8a" stroke-width="0.5"/>
<path d="M570.0,693.0 L557.0,687.0 L470.0,687.0" fill="none" stroke="#8f8f8f" stroke-width="1"/>
<path d="M470.0,687.0 L476.0,684.4 L476.0,689.6 Z" fill="#8a8a8a" stroke="#8a8a8a" stroke-width="0.5"/>
<path d="M525.0,705.0 L482.0,704.0" fill="none" stroke="#8f8f8f" stroke-width="1"/>
<path d="M482.0,704.0 L488.1,701.5 L487.9,706.7 Z" fill="#8a8a8a" stroke="#8a8a8a" stroke-width="0.5"/>
<path d="M566.0,729.0 L560.0,723.0 L517.0,726.0" fill="none" stroke="#8f8f8f" stroke-width="1"/>
<path d="M517.0,726.0 L522.8,723.0 L523.2,728.2 Z" fill="#8a8a8a" stroke="#8a8a8a" stroke-width="0.5"/>
<path d="M542.0,752.0 L533.0,738.0" fill="none" stroke="#8f8f8f" stroke-width="1"/>
<path d="M533.0,738.0 L538.4,741.6 L534.1,744.5 Z" fill="#8a8a8a" stroke="#8a8a8a" stroke-width="0.5"/>
<path d="M450.0,763.0 L437.0,757.0" fill="none" stroke="#8f8f8f" stroke-width="1"/>
<path d="M437.0,757.0 L443.5,757.2 L441.4,761.9 Z" fill="#8a8a8a" stroke="#8a8a8a" stroke-width="0.5"/>
<path d="M80.0,699.0 L82.0,710.0" fill="none" stroke="#8f8f8f" stroke-width="1"/>
<path d="M82.0,710.0 L78.4,704.6 L83.5,703.6 Z" fill="#8a8a8a" stroke="#8a8a8a" stroke-width="0.5"/>
<path d="M51.0,702.0 L57.0,703.0" fill="none" stroke="#8f8f8f" stroke-width="1"/>
<path d="M57.0,703.0 L50.7,704.6 L51.5,699.4 Z" fill="#8a8a8a" stroke="#8a8a8a" stroke-width="0.5"/>
<path d="M127.0,708.0 L110.0,700.0" fill="none" stroke="#8f8f8f" stroke-width="1"/>
<path d="M110.0,700.0 L116.5,700.2 L114.3,704.9 Z" fill="#8a8a8a" stroke="#8a8a8a" stroke-width="0.5"/>
<path d="M32.0,757.0 L42.0,753.0" fill="none" stroke="#8f8f8f" stroke-width="1"/>
<path d="M42.0,753.0 L37.4,757.6 L35.5,752.8 Z" fill="#8a8a8a" stroke="#8a8a8a" stroke-width="0.5"/>
<path d="M67.0,751.0 L62.0,738.0" fill="none" stroke="#8f8f8f" stroke-width="1"/>
<path d="M62.0,738.0 L66.6,742.7 L61.7,744.5 Z" fill="#8a8a8a" stroke="#8a8a8a" stroke-width="0.5"/>
<path d="M130.0,747.0 L123.0,735.0" fill="none" stroke="#8f8f8f" stroke-width="1"/>
<path d="M123.0,735.0 L128.3,738.9 L123.8,741.5 Z" fill="#8a8a8a" stroke="#8a8a8a" stroke-width="0.5"/>
<path d="M103.0,761.0 L95.0,752.0" fill="none" stroke="#8f8f8f" stroke-width="1"/>
<path d="M95.0,752.0 L100.9,754.8 L97.0,758.2 Z" fill="#8a8a8a" stroke="#8a8a8a" stroke-width="0.5"/>
<path d="M204.0,704.0 L221.5,662.5" fill="none" stroke="#8f8f8f" stroke-width="1"/>
<path d="M221.5,662.5 L221.6,669.0 L216.8,667.0 Z" fill="#8a8a8a" stroke="#8a8a8a" stroke-width="0.5"/>
<path d="M246.0,677.0 L242.6,658.3 L232.5,652.0 L226.5,650.5" fill="none" stroke="#8f8f8f" stroke-width="1"/>
<path d="M226.5,650.5 L233.0,649.4 L231.7,654.5 Z" fill="#8a8a8a" stroke="#8a8a8a" stroke-width="0.5"/>
<path d="M229.0,728.0 L237.0,661.0 L227.5,658.8" fill="none" stroke="#8f8f8f" stroke-width="1"/>
<path d="M227.5,658.8 L233.9,657.6 L232.8,662.7 Z" fill="#8a8a8a" stroke="#8a8a8a" stroke-width="0.5"/>
<path d="M255.0,720.0 L272.0,677.0" fill="none" stroke="#8f8f8f" stroke-width="1"/>
<path d="M272.0,677.0 L272.2,683.5 L267.4,681.6 Z" fill="#8a8a8a" stroke="#8a8a8a" stroke-width="0.5"/>
<path d="M283.0,715.0 L273.0,697.0" fill="none" stroke="#8f8f8f" stroke-width="1"/>
<path d="M273.0,697.0 L278.2,701.0 L273.6,703.5 Z" fill="#8a8a8a" stroke="#8a8a8a" stroke-width="0.5"/>
<path d="M385.0,731.0 L408.0,716.0" fill="none" stroke="#8f8f8f" stroke-width="1"/>
<path d="M408.0,716.0 L404.4,721.5 L401.6,717.1 Z" fill="#8a8a8a" stroke="#8a8a8a" stroke-width="0.5"/>
<path d="M391.0,756.0 L408.0,736.0" fill="none" stroke="#8f8f8f" stroke-width="1"/>
<path d="M408.0,736.0 L406.1,742.3 L402.1,738.9 Z" fill="#8a8a8a" stroke="#8a8a8a" stroke-width="0.5"/>
<circle cx="37" cy="25" r="11.5" fill="#ffffff" stroke="#333333" stroke-width="1.1"/>
<text x="37" y="29.1" text-anchor="middle" font-size="11.2" fill="#2a2a2a">28</text>
<circle cx="107.7" cy="14.5" r="11.5" fill="#ffffff" stroke="#333333" stroke-width="1.1"/>
<text x="107.7" y="18.6" text-anchor="middle" font-size="11.2" fill="#2a2a2a">22</text>
<circle cx="133" cy="39" r="11.5" fill="#ffffff" stroke="#333333" stroke-width="1.1"/>
<text x="133" y="43.1" text-anchor="middle" font-size="11.2" fill="#2a2a2a">25</text>
<circle cx="153" cy="62" r="11.5" fill="#ffffff" stroke="#333333" stroke-width="1.1"/>
<text x="153" y="66.1" text-anchor="middle" font-size="11.2" fill="#2a2a2a">26</text>
<circle cx="172" cy="96" r="11.5" fill="#ffffff" stroke="#333333" stroke-width="1.1"/>
<text x="172" y="100.1" text-anchor="middle" font-size="11.2" fill="#2a2a2a">27</text>
<circle cx="195" cy="113" r="11.5" fill="#ffffff" stroke="#333333" stroke-width="1.1"/>
<text x="195" y="117.1" text-anchor="middle" font-size="11.2" fill="#2a2a2a">28</text>
<circle cx="37" cy="158" r="11.5" fill="#ffffff" stroke="#333333" stroke-width="1.1"/>
<text x="37" y="162.1" text-anchor="middle" font-size="11.2" fill="#2a2a2a">27</text>
<circle cx="112" cy="164" r="11.5" fill="#ffffff" stroke="#333333" stroke-width="1.1"/>
<text x="112" y="168.1" text-anchor="middle" font-size="11.2" fill="#2a2a2a">24</text>
<circle cx="58" cy="183.6" r="11.5" fill="#ffffff" stroke="#333333" stroke-width="1.1"/>
<text x="58" y="187.7" text-anchor="middle" font-size="11.2" fill="#2a2a2a">55</text>
<circle cx="229" cy="162" r="11.5" fill="#ffffff" stroke="#333333" stroke-width="1.1"/>
<text x="229" y="166.1" text-anchor="middle" font-size="11.2" fill="#2a2a2a">69</text>
<circle cx="399" cy="148" r="11.5" fill="#ffffff" stroke="#333333" stroke-width="1.1"/>
<text x="399" y="152.1" text-anchor="middle" font-size="11.2" fill="#2a2a2a">65</text>
<circle cx="525" cy="15" r="11.5" fill="#ffffff" stroke="#333333" stroke-width="1.1"/>
<text x="525" y="19.1" text-anchor="middle" font-size="11.2" fill="#2a2a2a">16</text>
<circle cx="554" cy="28" r="11.5" fill="#ffffff" stroke="#333333" stroke-width="1.1"/>
<text x="554" y="32.1" text-anchor="middle" font-size="11.2" fill="#2a2a2a">14</text>
<circle cx="481" cy="42" r="11.5" fill="#ffffff" stroke="#333333" stroke-width="1.1"/>
<text x="481" y="46.1" text-anchor="middle" font-size="11.2" fill="#2a2a2a">1</text>
<circle cx="574" cy="47" r="11.5" fill="#ffffff" stroke="#333333" stroke-width="1.1"/>
<text x="574" y="51.1" text-anchor="middle" font-size="11.2" fill="#2a2a2a">6</text>
<circle cx="464" cy="82" r="11.5" fill="#ffffff" stroke="#333333" stroke-width="1.1"/>
<text x="464" y="86.1" text-anchor="middle" font-size="11.2" fill="#2a2a2a">6</text>
<circle cx="458" cy="109" r="11.5" fill="#ffffff" stroke="#333333" stroke-width="1.1"/>
<text x="458" y="113.1" text-anchor="middle" font-size="11.2" fill="#2a2a2a">13</text>
<circle cx="445" cy="135" r="11.5" fill="#ffffff" stroke="#333333" stroke-width="1.1"/>
<text x="445" y="139.1" text-anchor="middle" font-size="11.2" fill="#2a2a2a">7</text>
<circle cx="565" cy="143" r="11.5" fill="#ffffff" stroke="#333333" stroke-width="1.1"/>
<text x="565" y="147.1" text-anchor="middle" font-size="11.2" fill="#2a2a2a">27</text>
<circle cx="462" cy="202" r="11.5" fill="#ffffff" stroke="#333333" stroke-width="1.1"/>
<text x="462" y="206.1" text-anchor="middle" font-size="11.2" fill="#2a2a2a">15</text>
<circle cx="550" cy="239" r="11.5" fill="#ffffff" stroke="#333333" stroke-width="1.1"/>
<text x="550" y="243.1" text-anchor="middle" font-size="11.2" fill="#2a2a2a">19</text>
<circle cx="115" cy="248" r="11.5" fill="#ffffff" stroke="#333333" stroke-width="1.1"/>
<text x="115" y="252.1" text-anchor="middle" font-size="11.2" fill="#2a2a2a">68</text>
<circle cx="184" cy="267" r="11.5" fill="#ffffff" stroke="#333333" stroke-width="1.1"/>
<text x="184" y="271.1" text-anchor="middle" font-size="11.2" fill="#2a2a2a">67</text>
<circle cx="402" cy="253.3" r="11.5" fill="#ffffff" stroke="#333333" stroke-width="1.1"/>
<text x="402" y="257.4" text-anchor="middle" font-size="11.2" fill="#2a2a2a">70</text>
<circle cx="382.5" cy="289.2" r="11.5" fill="#ffffff" stroke="#333333" stroke-width="1.1"/>
<text x="382.5" y="293.3" text-anchor="middle" font-size="11.2" fill="#2a2a2a">61</text>
<circle cx="406.2" cy="289.2" r="11.5" fill="#ffffff" stroke="#333333" stroke-width="1.1"/>
<text x="406.2" y="293.3" text-anchor="middle" font-size="11.2" fill="#2a2a2a">62</text>
<circle cx="149" cy="290" r="11.5" fill="#ffffff" stroke="#333333" stroke-width="1.1"/>
<text x="149" y="294.1" text-anchor="middle" font-size="11.2" fill="#2a2a2a">63</text>
<circle cx="97" cy="300" r="11.5" fill="#ffffff" stroke="#333333" stroke-width="1.1"/>
<text x="97" y="304.1" text-anchor="middle" font-size="11.2" fill="#2a2a2a">64</text>
<circle cx="203" cy="310" r="11.5" fill="#ffffff" stroke="#333333" stroke-width="1.1"/>
<text x="203" y="314.1" text-anchor="middle" font-size="11.2" fill="#2a2a2a">66</text>
<circle cx="358" cy="326.7" r="11.5" fill="#ffffff" stroke="#333333" stroke-width="1.1"/>
<text x="358" y="330.8" text-anchor="middle" font-size="11.2" fill="#2a2a2a">59</text>
<circle cx="221" cy="337" r="11.5" fill="#ffffff" stroke="#333333" stroke-width="1.1"/>
<text x="221" y="341.1" text-anchor="middle" font-size="11.2" fill="#2a2a2a">59</text>
<circle cx="255" cy="332" r="11.5" fill="#ffffff" stroke="#333333" stroke-width="1.1"/>
<text x="255" y="336.1" text-anchor="middle" font-size="11.2" fill="#2a2a2a">60</text>
<circle cx="402" cy="344" r="11.5" fill="#ffffff" stroke="#333333" stroke-width="1.1"/>
<text x="402" y="348.1" text-anchor="middle" font-size="11.2" fill="#2a2a2a">48</text>
<circle cx="144" cy="396" r="11.5" fill="#ffffff" stroke="#333333" stroke-width="1.1"/>
<text x="144" y="400.1" text-anchor="middle" font-size="11.2" fill="#2a2a2a">70</text>
<circle cx="169" cy="390" r="11.5" fill="#ffffff" stroke="#333333" stroke-width="1.1"/>
<text x="169" y="394.1" text-anchor="middle" font-size="11.2" fill="#2a2a2a">57</text>
<circle cx="173" cy="427" r="11.5" fill="#ffffff" stroke="#333333" stroke-width="1.1"/>
<text x="173" y="431.1" text-anchor="middle" font-size="11.2" fill="#2a2a2a">56</text>
<circle cx="205" cy="416" r="11.5" fill="#ffffff" stroke="#333333" stroke-width="1.1"/>
<text x="205" y="420.1" text-anchor="middle" font-size="11.2" fill="#2a2a2a">58</text>
<circle cx="219.3" cy="438.7" r="11.5" fill="#ffffff" stroke="#333333" stroke-width="1.1"/>
<text x="219.3" y="442.8" text-anchor="middle" font-size="11.2" fill="#2a2a2a">57</text>
<circle cx="253.3" cy="434.7" r="11.5" fill="#ffffff" stroke="#333333" stroke-width="1.1"/>
<text x="253.3" y="438.8" text-anchor="middle" font-size="11.2" fill="#2a2a2a">57</text>
<circle cx="299" cy="432" r="11.5" fill="#ffffff" stroke="#333333" stroke-width="1.1"/>
<text x="299" y="436.1" text-anchor="middle" font-size="11.2" fill="#2a2a2a">50</text>
<circle cx="356" cy="411.7" r="11.5" fill="#ffffff" stroke="#333333" stroke-width="1.1"/>
<text x="356" y="415.8" text-anchor="middle" font-size="11.2" fill="#2a2a2a">51</text>
<circle cx="362" cy="446" r="11.5" fill="#ffffff" stroke="#333333" stroke-width="1.1"/>
<text x="362" y="450.1" text-anchor="middle" font-size="11.2" fill="#2a2a2a">50</text>
<circle cx="288" cy="454" r="11.5" fill="#ffffff" stroke="#333333" stroke-width="1.1"/>
<text x="288" y="458.1" text-anchor="middle" font-size="11.2" fill="#2a2a2a">52</text>
<circle cx="227" cy="473" r="11.5" fill="#ffffff" stroke="#333333" stroke-width="1.1"/>
<text x="227" y="477.1" text-anchor="middle" font-size="11.2" fill="#2a2a2a">50</text>
<circle cx="248" cy="489" r="11.5" fill="#ffffff" stroke="#333333" stroke-width="1.1"/>
<text x="248" y="493.1" text-anchor="middle" font-size="11.2" fill="#2a2a2a">52</text>
<circle cx="453.7" cy="369" r="11.5" fill="#ffffff" stroke="#333333" stroke-width="1.1"/>
<text x="453.7" y="373.1" text-anchor="middle" font-size="11.2" fill="#2a2a2a">34</text>
<circle cx="479" cy="370" r="11.5" fill="#ffffff" stroke="#333333" stroke-width="1.1"/>
<text x="479" y="374.1" text-anchor="middle" font-size="11.2" fill="#2a2a2a">8</text>
<circle cx="515" cy="379" r="11.5" fill="#ffffff" stroke="#333333" stroke-width="1.1"/>
<text x="515" y="383.1" text-anchor="middle" font-size="11.2" fill="#2a2a2a">35</text>
<circle cx="485" cy="429" r="11.5" fill="#ffffff" stroke="#333333" stroke-width="1.1"/>
<text x="485" y="433.1" text-anchor="middle" font-size="11.2" fill="#2a2a2a">36</text>
<circle cx="516" cy="446" r="11.5" fill="#ffffff" stroke="#333333" stroke-width="1.1"/>
<text x="516" y="450.1" text-anchor="middle" font-size="11.2" fill="#2a2a2a">54</text>
<circle cx="477" cy="456" r="11.5" fill="#ffffff" stroke="#333333" stroke-width="1.1"/>
<text x="477" y="460.1" text-anchor="middle" font-size="11.2" fill="#2a2a2a">5</text>
<circle cx="444" cy="484" r="11.5" fill="#ffffff" stroke="#333333" stroke-width="1.1"/>
<text x="444" y="488.1" text-anchor="middle" font-size="11.2" fill="#2a2a2a">53</text>
<circle cx="113" cy="444" r="11.5" fill="#ffffff" stroke="#333333" stroke-width="1.1"/>
<text x="113" y="448.1" text-anchor="middle" font-size="11.2" fill="#2a2a2a">45</text>
<circle cx="110" cy="473" r="11.5" fill="#ffffff" stroke="#333333" stroke-width="1.1"/>
<text x="110" y="477.1" text-anchor="middle" font-size="11.2" fill="#2a2a2a">44</text>
<circle cx="221" cy="522" r="11.5" fill="#ffffff" stroke="#333333" stroke-width="1.1"/>
<text x="221" y="526.1" text-anchor="middle" font-size="11.2" fill="#2a2a2a">9</text>
<circle cx="449" cy="513" r="11.5" fill="#ffffff" stroke="#333333" stroke-width="1.1"/>
<text x="449" y="517.1" text-anchor="middle" font-size="11.2" fill="#2a2a2a">10</text>
<circle cx="517.3" cy="513" r="11.5" fill="#ffffff" stroke="#333333" stroke-width="1.1"/>
<text x="517.3" y="517.1" text-anchor="middle" font-size="11.2" fill="#2a2a2a">23</text>
<circle cx="422" cy="523.7" r="11.5" fill="#ffffff" stroke="#333333" stroke-width="1.1"/>
<text x="422" y="527.8" text-anchor="middle" font-size="11.2" fill="#2a2a2a">30</text>
<circle cx="432" cy="548" r="11.5" fill="#ffffff" stroke="#333333" stroke-width="1.1"/>
<text x="432" y="552.1" text-anchor="middle" font-size="11.2" fill="#2a2a2a">18</text>
<circle cx="515" cy="548.5" r="11.5" fill="#ffffff" stroke="#333333" stroke-width="1.1"/>
<text x="515" y="552.6" text-anchor="middle" font-size="11.2" fill="#2a2a2a">13</text>
<circle cx="498" cy="592" r="11.5" fill="#ffffff" stroke="#333333" stroke-width="1.1"/>
<text x="498" y="596.1" text-anchor="middle" font-size="11.2" fill="#2a2a2a">49</text>
<circle cx="418" cy="616" r="11.5" fill="#ffffff" stroke="#333333" stroke-width="1.1"/>
<text x="418" y="620.1" text-anchor="middle" font-size="11.2" fill="#2a2a2a">20</text>
<circle cx="511" cy="622" r="11.5" fill="#ffffff" stroke="#333333" stroke-width="1.1"/>
<text x="511" y="626.1" text-anchor="middle" font-size="11.2" fill="#2a2a2a">17</text>
<circle cx="530" cy="641" r="11.5" fill="#ffffff" stroke="#333333" stroke-width="1.1"/>
<text x="530" y="645.1" text-anchor="middle" font-size="11.2" fill="#2a2a2a">29</text>
<circle cx="552" cy="657" r="11.5" fill="#ffffff" stroke="#333333" stroke-width="1.1"/>
<text x="552" y="661.1" text-anchor="middle" font-size="11.2" fill="#2a2a2a">21</text>
<circle cx="573" cy="672" r="11.5" fill="#ffffff" stroke="#333333" stroke-width="1.1"/>
<text x="573" y="676.1" text-anchor="middle" font-size="11.2" fill="#2a2a2a">11</text>
<circle cx="574" cy="703" r="11.5" fill="#ffffff" stroke="#333333" stroke-width="1.1"/>
<text x="574" y="707.1" text-anchor="middle" font-size="11.2" fill="#2a2a2a">12</text>
<circle cx="537" cy="705" r="11.5" fill="#ffffff" stroke="#333333" stroke-width="1.1"/>
<text x="537" y="709.1" text-anchor="middle" font-size="11.2" fill="#2a2a2a">4</text>
<circle cx="571" cy="737" r="11.5" fill="#ffffff" stroke="#333333" stroke-width="1.1"/>
<text x="571" y="741.1" text-anchor="middle" font-size="11.2" fill="#2a2a2a">21</text>
<circle cx="546" cy="764" r="11.5" fill="#ffffff" stroke="#333333" stroke-width="1.1"/>
<text x="546" y="768.1" text-anchor="middle" font-size="11.2" fill="#2a2a2a">29</text>
<circle cx="461" cy="770" r="11.5" fill="#ffffff" stroke="#333333" stroke-width="1.1"/>
<text x="461" y="774.1" text-anchor="middle" font-size="11.2" fill="#2a2a2a">3</text>
<circle cx="76" cy="687" r="11.5" fill="#ffffff" stroke="#333333" stroke-width="1.1"/>
<text x="76" y="691.1" text-anchor="middle" font-size="11.2" fill="#2a2a2a">39</text>
<circle cx="39" cy="700" r="11.5" fill="#ffffff" stroke="#333333" stroke-width="1.1"/>
<text x="39" y="704.1" text-anchor="middle" font-size="11.2" fill="#2a2a2a">37</text>
<circle cx="134" cy="720" r="11.5" fill="#ffffff" stroke="#333333" stroke-width="1.1"/>
<text x="134" y="724.1" text-anchor="middle" font-size="11.2" fill="#2a2a2a">38</text>
<circle cx="21" cy="764" r="11.5" fill="#ffffff" stroke="#333333" stroke-width="1.1"/>
<text x="21" y="768.1" text-anchor="middle" font-size="11.2" fill="#2a2a2a">40</text>
<circle cx="69" cy="763" r="11.5" fill="#ffffff" stroke="#333333" stroke-width="1.1"/>
<text x="69" y="767.1" text-anchor="middle" font-size="11.2" fill="#2a2a2a">42</text>
<circle cx="135" cy="759" r="11.5" fill="#ffffff" stroke="#333333" stroke-width="1.1"/>
<text x="135" y="763.1" text-anchor="middle" font-size="11.2" fill="#2a2a2a">41</text>
<circle cx="111" cy="772" r="11.5" fill="#ffffff" stroke="#333333" stroke-width="1.1"/>
<text x="111" y="776.1" text-anchor="middle" font-size="11.2" fill="#2a2a2a">43</text>
<circle cx="200" cy="715" r="11.5" fill="#ffffff" stroke="#333333" stroke-width="1.1"/>
<text x="200" y="719.1" text-anchor="middle" font-size="11.2" fill="#2a2a2a">32</text>
<circle cx="251" cy="688" r="11.5" fill="#ffffff" stroke="#333333" stroke-width="1.1"/>
<text x="251" y="692.1" text-anchor="middle" font-size="11.2" fill="#2a2a2a">33</text>
<circle cx="251" cy="732" r="11.5" fill="#ffffff" stroke="#333333" stroke-width="1.1"/>
<text x="251" y="736.1" text-anchor="middle" font-size="11.2" fill="#2a2a2a">46</text>
<circle cx="288" cy="727" r="11.5" fill="#ffffff" stroke="#333333" stroke-width="1.1"/>
<text x="288" y="731.1" text-anchor="middle" font-size="11.2" fill="#2a2a2a">47</text>
<circle cx="228" cy="740" r="11.5" fill="#ffffff" stroke="#333333" stroke-width="1.1"/>
<text x="228" y="744.1" text-anchor="middle" font-size="11.2" fill="#2a2a2a">31</text>
<circle cx="376" cy="740" r="11.5" fill="#ffffff" stroke="#333333" stroke-width="1.1"/>
<text x="376" y="744.1" text-anchor="middle" font-size="11.2" fill="#2a2a2a">4</text>
<circle cx="383" cy="764" r="11.5" fill="#ffffff" stroke="#333333" stroke-width="1.1"/>
<text x="383" y="768.1" text-anchor="middle" font-size="11.2" fill="#2a2a2a">2</text>
<text transform="translate(69,52) scale(0.65,1)" font-size="14.3" font-weight="bold" fill="#111" stroke="#111" stroke-width="0.7">DETAIL&#160;&#160;C</text>
<text transform="translate(528.5,219.3) scale(0.65,1)" font-size="14.3" font-weight="bold" fill="#111" stroke="#111" stroke-width="0.7">DETAIL&#160;&#160;B</text>
<text transform="translate(16.2,681) scale(0.65,1)" font-size="14.3" font-weight="bold" fill="#111" stroke="#111" stroke-width="0.7">DETAIL&#160;&#160;A</text>
<text transform="translate(335.5,469.5) scale(0.75,1)" font-size="14.3" font-weight="bold" fill="#111" stroke="#111" stroke-width="0.7">A</text>
<text transform="translate(77,639.5) scale(0.75,1)" font-size="14.3" font-weight="bold" fill="#111" stroke="#111" stroke-width="0.7">B</text>
<text transform="translate(388.5,532.5) scale(0.75,1)" font-size="14.3" font-weight="bold" fill="#111" stroke="#111" stroke-width="0.7">C</text>
</svg>
</body></html>
